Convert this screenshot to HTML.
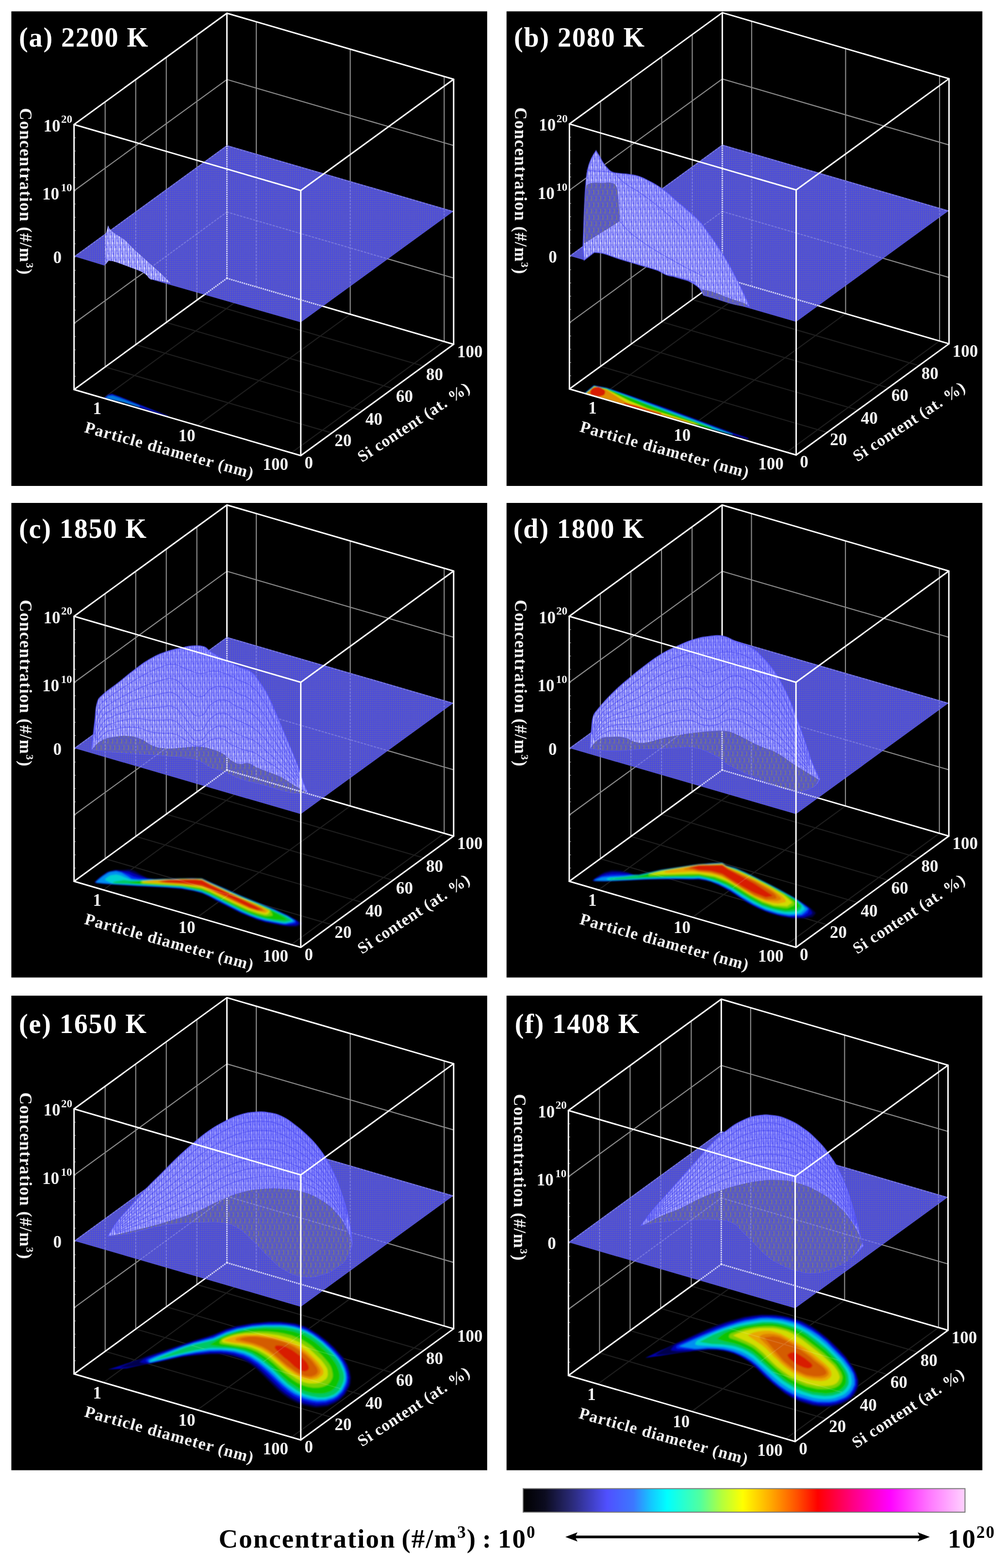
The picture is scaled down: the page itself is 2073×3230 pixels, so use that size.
<!DOCTYPE html>
<html lang="en">
<head>
<meta charset="utf-8">
<title>Concentration distributions</title>
<style>
html,body{margin:0;padding:0;background:#fff;}
body{width:2073px;height:3230px;font-family:"Liberation Serif",serif;}
svg{display:block;}
text{font-family:"Liberation Serif",serif;font-weight:bold;}
.e{stroke:#fff;stroke-width:3;fill:none;stroke-linejoin:round;stroke-linecap:round}
.g{stroke:#8a8a8a;stroke-width:2.2;fill:none}
.fg{stroke:#1e1e1e;stroke-width:2.2;fill:none}
.mt{stroke:#888;stroke-width:1.5}
.ml{stroke:#4a4af2;stroke-width:1.8;fill:none;opacity:.5}
.pl{fill:url(#pp)}
.g2{stroke:#c4c4ff;stroke-width:2.4;fill:none;opacity:.3;stroke-dasharray:5 2}
.e2{stroke:#f0f0ff;stroke-width:3;fill:none;opacity:.8;stroke-dasharray:3 1.5}
.fg2{stroke:#fff;stroke-width:2.4;fill:none}
.t{fill:#f4f4f4;font-size:35px}
.sp{font-size:23px}
.sp2{font-size:22px}
.al{fill:#f4f4f4;font-size:35px;letter-spacing:1.45px}
.al2{fill:#f4f4f4;font-size:34px;letter-spacing:1.4px}
.al3{fill:#f4f4f4;font-size:33.5px;letter-spacing:1.05px}
.pt{fill:#fff;font-size:56px;letter-spacing:1.9px}
.bt{fill:#000;font-size:55px;letter-spacing:2px;word-spacing:-4px}
</style>
</head>
<body>
<svg width="2073" height="3230" viewBox="0 0 2073 3230">
<defs>
<linearGradient id="cb" x1="0" y1="0" x2="1" y2="0">
<stop offset="0" stop-color="#000000"/>
<stop offset="0.05" stop-color="#0c0c20"/>
<stop offset="0.11" stop-color="#2a2a78"/>
<stop offset="0.19" stop-color="#5050ff"/>
<stop offset="0.25" stop-color="#3c78ff"/>
<stop offset="0.29" stop-color="#14c8ff"/>
<stop offset="0.326" stop-color="#00ffff"/>
<stop offset="0.40" stop-color="#50ffa0"/>
<stop offset="0.45" stop-color="#b4ff3c"/>
<stop offset="0.497" stop-color="#ffff00"/>
<stop offset="0.56" stop-color="#ffaa00"/>
<stop offset="0.62" stop-color="#ff5000"/>
<stop offset="0.667" stop-color="#ff0000"/>
<stop offset="0.745" stop-color="#ff0080"/>
<stop offset="0.829" stop-color="#ff00ff"/>
<stop offset="0.92" stop-color="#ff78ff"/>
<stop offset="1" stop-color="#ffd2ff"/>
</linearGradient>


<pattern id="st" width="9.4" height="26" patternUnits="userSpaceOnUse">
<rect width="9.4" height="26" fill="#7878f5"/>
<rect x="0.2" y="0" width="2.3" height="26" fill="#c2c2fa"/>
<rect x="4.9" y="0" width="2.3" height="26" fill="#bcbcf9"/>
<rect x="0.2" y="9" width="2.3" height="3.5" fill="#8e8ef6"/>
<rect x="4.9" y="21" width="2.3" height="3.5" fill="#8e8ef6"/>
<rect x="0.2" y="17" width="2.3" height="5" fill="#dedefc"/>
<rect x="4.9" y="4" width="2.3" height="5" fill="#dedefc"/>
<rect x="2.5" y="13" width="2.4" height="4" fill="#5a5af5"/>
<rect x="7.2" y="1" width="2.2" height="4" fill="#5a5af5"/>
</pattern>
<pattern id="gs" width="9.4" height="26" patternUnits="userSpaceOnUse">
<rect width="9.4" height="26" fill="#5c5cc0"/>
<rect x="0.3" y="1" width="2.1" height="10" fill="#787880"/>
<rect x="5" y="14" width="2.1" height="10" fill="#787880"/>
<rect x="2.5" y="16" width="2.4" height="4" fill="#4c4ce0"/>
<rect x="7.2" y="4" width="2.2" height="4" fill="#4c4ce0"/>
</pattern>
<pattern id="pp" width="4" height="4" patternUnits="userSpaceOnUse">
<rect width="4" height="4" fill="#5151d0"/>
<rect x="0" y="0" width="2" height="2" fill="#4747e6"/>
<rect x="2" y="2" width="2" height="2" fill="#6262b6"/>
</pattern>
<linearGradient id="tint" x1="0" y1="1" x2="1" y2="0">
<stop offset="0" stop-color="#4646ff" stop-opacity="0"/>
<stop offset="0.45" stop-color="#4646ff" stop-opacity="0.10"/>
<stop offset="0.8" stop-color="#4646ff" stop-opacity="0.38"/>
<stop offset="1" stop-color="#4646ff" stop-opacity="0.5"/>
</linearGradient>
<filter id="bl" x="-10%" y="-10%" width="120%" height="120%"><feGaussianBlur stdDeviation="1.6"/></filter>
<filter id="b1" x="-5%" y="-5%" width="110%" height="110%"><feGaussianBlur stdDeviation="0.8"/></filter>

<g id="back"><line class="g" x1="216.7" y1="755.9" x2="216.7" y2="209.9"/>
<line class="g" x1="279.7" y1="710" x2="279.7" y2="164"/>
<line class="g" x1="342.7" y1="664.2" x2="342.7" y2="118.2"/>
<line class="g" x1="405.7" y1="618.3" x2="405.7" y2="72.3"/>
<line class="g" x1="528.1" y1="590.9" x2="528.1" y2="44.9"/>
<line class="g" x1="721.7" y1="647.3" x2="721.7" y2="101.3"/>
<line class="g" x1="915.3" y1="703.6" x2="915.3" y2="157.6"/>
<line class="g" x1="152.6" y1="666" x2="467.6" y2="436.8"/>
<line class="g" x1="467.6" y1="436.8" x2="934.8" y2="572.8"/>
<line class="g" x1="152.6" y1="529.5" x2="467.6" y2="300.3"/>
<line class="g" x1="467.6" y1="300.3" x2="934.8" y2="436.3"/>
<line class="g" x1="152.6" y1="393" x2="467.6" y2="163.8"/>
<line class="g" x1="467.6" y1="163.8" x2="934.8" y2="299.8"/>
<line class="fg" x1="216.7" y1="755.9" x2="683.9" y2="891.9"/>
<line class="fg" x1="279.7" y1="710" x2="746.9" y2="846"/>
<line class="fg" x1="342.7" y1="664.2" x2="809.9" y2="800.2"/>
<line class="fg" x1="405.7" y1="618.3" x2="872.9" y2="754.3"/>
<line class="fg" x1="213.1" y1="820.1" x2="528.1" y2="590.9"/>
<line class="fg" x1="406.7" y1="876.5" x2="721.7" y2="647.3"/>
<line class="fg" x1="600.3" y1="932.8" x2="915.3" y2="703.6"/>
<line class="e" x1="467.6" y1="573.3" x2="467.6" y2="27.3"/>
<line class="e" x1="152.6" y1="802.5" x2="467.6" y2="573.3"/>
<line class="e" x1="467.6" y1="573.3" x2="934.8" y2="709.3"/></g>
<g id="back2"><line class="g2" x1="216.7" y1="755.9" x2="216.7" y2="209.9"/>
<line class="g2" x1="279.7" y1="710" x2="279.7" y2="164"/>
<line class="g2" x1="342.7" y1="664.2" x2="342.7" y2="118.2"/>
<line class="g2" x1="405.7" y1="618.3" x2="405.7" y2="72.3"/>
<line class="g2" x1="528.1" y1="590.9" x2="528.1" y2="44.9"/>
<line class="g2" x1="721.7" y1="647.3" x2="721.7" y2="101.3"/>
<line class="g2" x1="915.3" y1="703.6" x2="915.3" y2="157.6"/>
<line class="g2" x1="152.6" y1="666" x2="467.6" y2="436.8"/>
<line class="g2" x1="467.6" y1="436.8" x2="934.8" y2="572.8"/>
<line class="g2" x1="152.6" y1="529.5" x2="467.6" y2="300.3"/>
<line class="g2" x1="467.6" y1="300.3" x2="934.8" y2="436.3"/>
<line class="g2" x1="152.6" y1="393" x2="467.6" y2="163.8"/>
<line class="g2" x1="467.6" y1="163.8" x2="934.8" y2="299.8"/>
<line class="e2" x1="467.6" y1="573.3" x2="467.6" y2="27.3"/>
<line class="e2" x1="467.6" y1="573.3" x2="934.8" y2="709.3"/>
<line class="e2" x1="152.6" y1="802.5" x2="467.6" y2="573.3"/></g>
<g id="fgrid"><line class="fg2" x1="216.7" y1="755.9" x2="683.9" y2="891.9"/>
<line class="fg2" x1="279.7" y1="710" x2="746.9" y2="846"/>
<line class="fg2" x1="342.7" y1="664.2" x2="809.9" y2="800.2"/>
<line class="fg2" x1="405.7" y1="618.3" x2="872.9" y2="754.3"/>
<line class="fg2" x1="213.1" y1="820.1" x2="528.1" y2="590.9"/>
<line class="fg2" x1="406.7" y1="876.5" x2="721.7" y2="647.3"/>
<line class="fg2" x1="600.3" y1="932.8" x2="915.3" y2="703.6"/></g>
<g id="front"><line class="mt" x1="154.1" y1="775.2" x2="156.1" y2="775.2"/>
<line class="mt" x1="154.1" y1="747.9" x2="156.1" y2="747.9"/>
<line class="mt" x1="154.1" y1="720.6" x2="156.1" y2="720.6"/>
<line class="mt" x1="154.1" y1="693.3" x2="156.1" y2="693.3"/>
<line class="mt" x1="154.1" y1="666" x2="156.1" y2="666"/>
<line class="mt" x1="154.1" y1="638.7" x2="156.1" y2="638.7"/>
<line class="mt" x1="154.1" y1="611.4" x2="156.1" y2="611.4"/>
<line class="mt" x1="154.1" y1="584.1" x2="156.1" y2="584.1"/>
<line class="mt" x1="154.1" y1="556.8" x2="156.1" y2="556.8"/>
<line class="mt" x1="154.1" y1="529.5" x2="156.1" y2="529.5"/>
<line class="mt" x1="154.1" y1="502.2" x2="156.1" y2="502.2"/>
<line class="mt" x1="154.1" y1="474.9" x2="156.1" y2="474.9"/>
<line class="mt" x1="154.1" y1="447.6" x2="156.1" y2="447.6"/>
<line class="mt" x1="154.1" y1="420.3" x2="156.1" y2="420.3"/>
<line class="mt" x1="154.1" y1="393" x2="156.1" y2="393"/>
<line class="mt" x1="154.1" y1="365.7" x2="156.1" y2="365.7"/>
<line class="mt" x1="154.1" y1="338.4" x2="156.1" y2="338.4"/>
<line class="mt" x1="154.1" y1="311.1" x2="156.1" y2="311.1"/>
<line class="mt" x1="154.1" y1="283.8" x2="156.1" y2="283.8"/>
<path class="e" d="M152.6,256.5 L619.8,392.5 L934.8,163.3 L467.6,27.3Z"/>
<path class="e" d="M152.6,256.5 L152.6,802.5 L619.8,938.5 L934.8,709.3 L934.8,163.3"/>
<line class="e" x1="619.8" y1="938.5" x2="619.8" y2="392.5"/></g>
</defs>
<rect x="0" y="0" width="2073" height="3230" fill="#fff"/>
<g id="panel-a">
<rect x="23.4" y="23.4" width="980.5" height="977.6" fill="#000"/>
<g transform="translate(0 0)"><use href="#back"/></g>
<g filter="url(#b1)"><path fill="#0014c8"  d="M214.4,820.3L222.5,813.3L230.6,811.3L246.8,817L271.2,826.8L303.6,839.7L328,849.5L346.7,856.6L346.7,857.9L303.6,844.4L254.9,829Z"/><path fill="#0078dc"  d="M217.6,819.9L223.3,815.4L232.2,814.9L246.8,819.9L271.2,829.5L287.4,836L287.4,838.4L254.9,829Z"/></g>
<clipPath id="cp-a"><polygon  points="152.6,528.1 215,546.9 223.8,537.1 233.5,538.3 249.1,543.4 264.7,549.2 280.3,555.1 293.9,560.9 301.7,566.4 309.5,575.1 619.8,664.1 934.8,434.9 467.6,298.9"/></clipPath>
<polygon class="pl" points="152.6,528.1 215,546.9 223.8,537.1 233.5,538.3 249.1,543.4 264.7,549.2 280.3,555.1 293.9,560.9 301.7,566.4 309.5,575.1 619.8,664.1 934.8,434.9 467.6,298.9"/>
<g clip-path="url(#cp-a)"><g transform="translate(0 0)"><use href="#back2"/></g></g>
<path fill="url(#st)"  d="M216.9,486.5C217.1,482 218.3,481.1 219.5,476.8C221,471.1 222.8,464.1 222.8,464.1C222.8,464.1 224.4,468.7 226.7,471.9C229.3,475.4 230.1,476 233.5,478.7C238.5,482.6 239.9,483 245.2,486.5C250.5,490 252,490.3 256.9,494.3C261.7,498.2 262.2,499.6 266.6,504C271,508.4 271.9,509.5 276.4,513.8C280.6,517.8 281.7,518.6 286.1,522.5C290.5,526.5 291.5,527.4 295.8,531.3C300.2,535.2 301.2,536.1 305.6,540.1C310,544 310.9,544.9 315.3,548.8C319.7,552.8 320.7,553.7 325.1,557.6C329.4,561.5 330.5,562.3 334.8,566.4C338.4,569.8 339.1,570.6 342.6,574.2C347,578.5 352.3,583.9 352.3,583.9C352.3,583.9 342.7,581.4 334.8,579.6C326.1,577.7 323.8,577.2 315.3,575.7C312.7,575.3 311.7,576.6 309.5,575.1C305.1,572.1 305.6,569.9 301.7,566.4C298.5,563.5 297.7,562.9 293.9,560.9C288,557.8 286.5,557.5 280.3,555.1C273.3,552.3 271.7,551.9 264.7,549.2C257.7,546.6 256.2,545.9 249.1,543.4C242.1,540.9 240.7,540.1 233.5,538.3C229.2,537.3 223.8,537.1 223.8,537.1C223.8,537.1 217.9,544.9 217.9,544.9C217.9,544.9 216.4,509.2 216.9,486.5Z"/>
<g transform="translate(0 0)">
<use href="#front"/>
<g class="labels"><text class="t" transform="translate(89.5 270.5) scale(1 1.04)">10<tspan class="sp" dx="1.5" dy="-16.5">20</tspan></text>
<text class="t" transform="translate(87 411.3) scale(1 1.04)">10<tspan class="sp" dx="3.5" dy="-16.5">10</tspan></text>
<text class="t" transform="translate(109.5 542) scale(1 1.04)">0</text>
<text class="al" transform="translate(40.5 222.5) rotate(90)">Concentration (#/m<tspan class="sp2" dy="-13">3</tspan><tspan dy="13">)</tspan></text>
<text class="t" transform="translate(191.5 853) scale(1 1.04)">1</text>
<text class="t" transform="translate(367.5 909) scale(1 1.04)">10</text>
<text class="t" transform="translate(541.5 968) scale(1 1.04)">100</text>
<text class="al2" transform="translate(172.5 890) rotate(15.5)">Particle diameter (nm)</text>
<text class="t" transform="translate(627.5 964.5) scale(1 1.04)">0</text>
<text class="t" transform="translate(689.5 918.5) scale(1 1.04)">20</text>
<text class="t" transform="translate(753 874.5) scale(1 1.04)">40</text>
<text class="t" transform="translate(816 827.5) scale(1 1.04)">60</text>
<text class="t" transform="translate(878 782.5) scale(1 1.04)">80</text>
<text class="t" transform="translate(942 736) scale(1 1.04)">100</text>
<text class="al3" transform="translate(746 953) rotate(-33.4)">Si content (at. %)</text></g>
</g>
<text class="pt" x="39" y="95.8">(a) 2200 K</text>
</g>
<g id="panel-b">
<rect x="1043.8" y="23.4" width="980.5" height="977.6" fill="#000"/>
<g transform="translate(1020.8 -1.2)"><use href="#back"/></g>
<g filter="url(#b1)"><path fill="#0000b4"  d="M1203.2,810.4L1223.6,793.5L1250.1,798.4L1286.1,810.4L1334.2,827.2L1382.2,844L1430.3,862L1478.3,880L1514.4,893.3L1542,902.6L1542,905L1430.3,873.8L1310.1,839.9Z"/><path fill="#00b4dc"  d="M1204.9,810.4L1224.1,794.7L1250.1,799.8L1286.1,812.5L1334.2,830.1L1382.2,847.4L1430.3,865.1L1478.3,882.9L1509.5,894.5L1509.5,895.7L1430.3,873.8L1310.1,839.9Z"/><path fill="#14c400"  d="M1206.3,810.4L1224.6,795.5L1250.1,800.8L1286.1,814.4L1334.2,832.9L1382.2,850.7L1430.3,868L1466.3,881L1466.3,883.9L1430.3,873.8L1310.1,839.9Z"/><path fill="#d2dc00"  d="M1207.3,810.4L1225.1,796.2L1250.1,802.2L1271.7,813.2L1298.1,826.5L1334.2,840.9L1382.2,856L1430.3,870.9L1442.3,875.7L1430.3,873.8L1310.1,839.9Z"/><path fill="#e08c00"  d="M1208.3,810.4L1225.6,796.9L1250.1,803.6L1269.3,815.6L1290.9,828.9L1334.2,844L1382.2,858.4L1418.2,869L1418.2,870.9L1310.1,839.9Z"/><path fill="#d81c00"  d="M1216.4,808.9C1216.4,803.2 1219.8,799.8 1226,798.1C1233.5,796.1 1236.1,797.9 1242.9,801.7C1246.3,803.6 1247.7,805.8 1246.7,809.6C1245.6,813.8 1243.4,814.5 1239.3,815.6C1233.5,817.2 1231.7,816.9 1226,815.2C1221.1,813.7 1216.4,814.1 1216.4,808.9Z"/><path fill="#dc3000"  d="M1286.1,829.6L1310.1,834.9L1334.2,842.8L1363,851.2L1363,854.1L1310.1,839.9L1286.1,832.9Z"/></g>
<clipPath id="cp-b"><polygon  points="1173.4,526.9 1203.8,535.8 1224.3,519.9 1241.8,521.8 1276.9,533.5 1315.8,545.2 1354.8,556.9 1374.3,566.6 1393.8,570.5 1432.7,582.2 1379.5,567 1408.7,574.8 1426.2,582.6 1441.8,594.3 1449.6,607.9 1640.6,662.9 1955.6,433.7 1488.4,297.7"/></clipPath>
<polygon class="pl" points="1173.4,526.9 1203.8,535.8 1224.3,519.9 1241.8,521.8 1276.9,533.5 1315.8,545.2 1354.8,556.9 1374.3,566.6 1393.8,570.5 1432.7,582.2 1379.5,567 1408.7,574.8 1426.2,582.6 1441.8,594.3 1449.6,607.9 1640.6,662.9 1955.6,433.7 1488.4,297.7"/>
<g clip-path="url(#cp-b)"><g transform="translate(1020.8 -1.2)"><use href="#back2"/></g></g>
<path fill="url(#st)" stroke="#5656fa" stroke-width="2.5" stroke-opacity=".55" d="M1201.3,511.1C1201.3,511.1 1202.1,485.9 1202.9,465.3C1203.7,443.4 1203.7,438.5 1204.8,416.6C1205.9,396.4 1205.8,391.9 1207.7,371.8C1208.8,360.3 1208.9,357.7 1211.6,346.5C1213.8,337.5 1214.6,335.5 1218.4,327C1222.1,319.2 1228.2,310.5 1228.2,310.5C1228.2,310.5 1232.6,317.4 1236,323.1C1239.6,329.2 1239.8,330.9 1243.8,336.8C1246.9,341.4 1247.6,342.5 1251.6,346.5C1255.5,350.5 1256.1,352.1 1261.3,354.3C1267.9,357.1 1269.8,356.2 1276.9,357.2C1285.6,358.4 1287.7,357.8 1296.4,359.2C1305.2,360.5 1307.3,360.3 1315.8,363.1C1325,366 1326.7,367.5 1335.3,371.8C1344.3,376.3 1346.3,377.2 1354.8,382.5C1363.9,388.2 1365.9,389.5 1374.3,396.2C1382.7,402.8 1383.9,405 1392,411.9C1403.6,422 1406.5,423.7 1417.9,434C1430,444.8 1432.9,446.9 1444,458.7C1449,463.9 1449.3,465.8 1453.5,471.6C1460.5,481.2 1462.3,483.2 1469.1,493C1476.3,503.4 1477.9,505.7 1484.7,516.4C1491.9,527.6 1493.6,530.1 1500.3,541.7C1507.7,554.6 1509,557.7 1515.8,570.9C1522.1,583.1 1523.5,585.8 1529.5,598.2C1534.9,609.5 1536.3,612.6 1541.2,623.5C1542.6,626.8 1544.1,630.9 1544.1,630.9C1544.1,630.9 1528.3,630.2 1515.8,627.4C1498,623.4 1494.4,620.9 1476.9,615.7C1464.6,612.1 1449.6,607.9 1449.6,607.9C1449.6,607.9 1446.6,599.5 1441.8,594.3C1435.9,587.8 1433.8,587 1426.2,582.6C1418.8,578.2 1416.9,577.5 1408.7,574.8C1395.8,570.5 1371.5,564.5 1379.5,567C1387.5,569.5 1428,581 1432.7,582.2C1437.5,583.4 1411.5,575.2 1393.8,570.5C1385.1,568.2 1382.7,569.6 1374.3,566.6C1365,563.4 1364,560.3 1354.8,556.9C1337.6,550.6 1333.4,550.5 1315.8,545.2C1298.3,539.9 1294.3,539 1276.9,533.5C1261,528.5 1257.9,526 1241.8,521.8C1234.1,519.8 1224.3,519.9 1224.3,519.9C1224.3,519.9 1203.8,535.8 1203.8,535.8C1203.8,535.8 1201.3,511.1 1201.3,511.1Z"/><path fill="url(#tint)"  d="M1201.3,511.1C1201.3,511.1 1202.1,485.9 1202.9,465.3C1203.7,443.4 1203.7,438.5 1204.8,416.6C1205.9,396.4 1205.8,391.9 1207.7,371.8C1208.8,360.3 1208.9,357.7 1211.6,346.5C1213.8,337.5 1214.6,335.5 1218.4,327C1222.1,319.2 1228.2,310.5 1228.2,310.5C1228.2,310.5 1232.6,317.4 1236,323.1C1239.6,329.2 1239.8,330.9 1243.8,336.8C1246.9,341.4 1247.6,342.5 1251.6,346.5C1255.5,350.5 1256.1,352.1 1261.3,354.3C1267.9,357.1 1269.8,356.2 1276.9,357.2C1285.6,358.4 1287.7,357.8 1296.4,359.2C1305.2,360.5 1307.3,360.3 1315.8,363.1C1325,366 1326.7,367.5 1335.3,371.8C1344.3,376.3 1346.3,377.2 1354.8,382.5C1363.9,388.2 1365.9,389.5 1374.3,396.2C1382.7,402.8 1383.9,405 1392,411.9C1403.6,422 1406.5,423.7 1417.9,434C1430,444.8 1432.9,446.9 1444,458.7C1449,463.9 1449.3,465.8 1453.5,471.6C1460.5,481.2 1462.3,483.2 1469.1,493C1476.3,503.4 1477.9,505.7 1484.7,516.4C1491.9,527.6 1493.6,530.1 1500.3,541.7C1507.7,554.6 1509,557.7 1515.8,570.9C1522.1,583.1 1523.5,585.8 1529.5,598.2C1534.9,609.5 1536.3,612.6 1541.2,623.5C1542.6,626.8 1544.1,630.9 1544.1,630.9C1544.1,630.9 1528.3,630.2 1515.8,627.4C1498,623.4 1494.4,620.9 1476.9,615.7C1464.6,612.1 1449.6,607.9 1449.6,607.9C1449.6,607.9 1446.6,599.5 1441.8,594.3C1435.9,587.8 1433.8,587 1426.2,582.6C1418.8,578.2 1416.9,577.5 1408.7,574.8C1395.8,570.5 1371.5,564.5 1379.5,567C1387.5,569.5 1428,581 1432.7,582.2C1437.5,583.4 1411.5,575.2 1393.8,570.5C1385.1,568.2 1382.7,569.6 1374.3,566.6C1365,563.4 1364,560.3 1354.8,556.9C1337.6,550.6 1333.4,550.5 1315.8,545.2C1298.3,539.9 1294.3,539 1276.9,533.5C1261,528.5 1257.9,526 1241.8,521.8C1234.1,519.8 1224.3,519.9 1224.3,519.9C1224.3,519.9 1203.8,535.8 1203.8,535.8C1203.8,535.8 1201.3,511.1 1201.3,511.1Z"/><path fill="url(#gs)"  d="M1208.7,381.6C1208.7,381.6 1213.7,377.9 1218.4,377.1C1227.1,375.6 1229.2,376.4 1237.9,376.7C1250.2,377.1 1253.9,373.8 1265.2,378.6C1271.1,381.2 1272,391.3 1272,391.3C1272,391.3 1274.1,405.2 1274.9,416.6C1276.3,434.1 1276.9,455.6 1276.9,455.6C1276.9,455.6 1266.3,462.7 1257.4,468.2C1248.7,473.7 1246.6,474.6 1237.9,479.9C1231.7,483.8 1230.5,484.8 1224.3,488.7C1215.1,494.5 1203.8,501.4 1203.8,501.4C1203.8,501.4 1203.9,470.8 1204.4,445.8C1204.8,428.3 1204.6,424.4 1205.8,406.9C1206.5,395.4 1208.7,381.6 1208.7,381.6Z"/><path fill="url(#gs)"  d="M1445.7,596.2C1445.7,596.2 1452.2,596.9 1457.4,598.2C1466.3,600.4 1468.2,601 1476.9,604C1485.8,607.1 1487.5,608.5 1496.4,611.8C1505.1,615.1 1507.1,615.6 1515.8,618.6C1524.6,621.7 1527,621.4 1535.3,625.5C1539,627.2 1542.1,631.3 1542.1,631.3C1542.1,631.3 1527.5,630.2 1515.8,627.4C1498,623.2 1494.5,620.9 1476.9,615.7C1465.1,612.3 1450.6,608.3 1450.6,608.3C1450.6,608.3 1445.7,596.2 1445.7,596.2Z"/><path class="ml"  d="M1276.9,455.6C1276.9,455.6 1286.9,468 1296.4,477C1304.5,484.7 1306.9,485.9 1315.8,492.6C1324.4,499 1326.3,500.5 1335.3,506.2C1352.6,517.2 1356.6,519.4 1374.3,529.6C1391.6,539.6 1395.5,541.7 1413.2,551C1430.6,560.2 1452.2,570.5 1452.2,570.5"/><path class="ml"  d="M1269.1,358.2C1269.1,358.2 1274.9,366.3 1280.8,371.8C1287.2,377.8 1289.1,378.6 1296.4,383.5C1304.9,389.2 1307.3,389.6 1315.8,395.2C1324.8,401 1326.8,402.4 1335.3,408.8C1344.3,415.6 1346,417.4 1354.8,424.4C1363.6,431.4 1365.7,432.7 1374.3,440C1383.3,447.6 1385,449.6 1393.8,457.5C1402.5,465.4 1413.2,475.1 1413.2,475.1"/><path class="ml"  d="M1208.7,350.4C1208.7,350.4 1219.4,351.7 1228.2,352.3C1236.9,353 1238.9,352.3 1247.7,353.3C1257.4,354.5 1269.1,357.2 1269.1,357.2"/>
<g transform="translate(1020.8 -1.2)">
<use href="#front"/>
<g class="labels"><text class="t" transform="translate(89.5 270.5) scale(1 1.04)">10<tspan class="sp" dx="1.5" dy="-16.5">20</tspan></text>
<text class="t" transform="translate(87 411.3) scale(1 1.04)">10<tspan class="sp" dx="3.5" dy="-16.5">10</tspan></text>
<text class="t" transform="translate(109.5 542) scale(1 1.04)">0</text>
<text class="al" transform="translate(40.5 222.5) rotate(90)">Concentration (#/m<tspan class="sp2" dy="-13">3</tspan><tspan dy="13">)</tspan></text>
<text class="t" transform="translate(191.5 853) scale(1 1.04)">1</text>
<text class="t" transform="translate(367.5 909) scale(1 1.04)">10</text>
<text class="t" transform="translate(541.5 968) scale(1 1.04)">100</text>
<text class="al2" transform="translate(172.5 890) rotate(15.5)">Particle diameter (nm)</text>
<text class="t" transform="translate(627.5 964.5) scale(1 1.04)">0</text>
<text class="t" transform="translate(689.5 918.5) scale(1 1.04)">20</text>
<text class="t" transform="translate(753 874.5) scale(1 1.04)">40</text>
<text class="t" transform="translate(816 827.5) scale(1 1.04)">60</text>
<text class="t" transform="translate(878 782.5) scale(1 1.04)">80</text>
<text class="t" transform="translate(942 736) scale(1 1.04)">100</text>
<text class="al3" transform="translate(746 953) rotate(-33.4)">Si content (at. %)</text></g>
</g>
<text class="pt" x="1059" y="95.8">(b) 2080 K</text>
</g>
<g id="panel-c">
<rect x="23.4" y="1036" width="980.5" height="977.6" fill="#000"/>
<g transform="translate(0 1013)"><use href="#back"/></g>
<g filter="url(#bl)"><path fill="#00004c" d="M611.1,1908.9L594.5,1908.8L578.1,1906.3L546.6,1900.1L530.1,1895.1L496.2,1881.5L448.5,1857.5L433.5,1848.7L417.1,1840.7L399.1,1835.8L375.1,1831.6L343.5,1828.7L281.8,1825.7L219.5,1821.5L198.5,1819.4L196,1818.8L194.8,1817.8L194.7,1817.1L204.8,1807.5L221.1,1796.1L237.1,1792.1L253.1,1792.3L265.8,1790.7L277,1794.1L290.1,1801.6L303.1,1808.3L317.5,1810.4L394.8,1808.9L416.1,1809.4L465.5,1830.8L497.1,1845L562.9,1871.5L593.6,1885.5L623.3,1902.1L622.9,1903.1Z"/><path fill="#0000b4" d="M597.1,1906.5L586.8,1906.2L577.5,1904.7L546.5,1898.7L530.1,1893.8L495.5,1879.8L449.1,1856.5L433.8,1847.8L417.5,1840L399.8,1835.2L375.5,1830.9L365.5,1829.9L338.1,1827.8L281.8,1825L219.5,1821L198.5,1819L196.5,1818.4L195.7,1817.1L196.6,1815.8L205.1,1808.1L220.7,1797.1L226.5,1795.1L238.8,1792.8L265.8,1795.4L286.8,1804.1L304.5,1809.7L319.1,1810.9L395.1,1809.2L416.1,1809.7L496.8,1845.4L562.8,1872.1L588.4,1883.8L597.6,1888.5L609.8,1895.5L612.7,1898.1L615.4,1901.8L615.4,1902.5L614.4,1903.5L610.1,1905.7Z"/><path fill="#0028f0" d="M589.8,1904.2L583.8,1903.9L546.8,1897L529.1,1891.6L512.8,1885.4L496.1,1878.3L449.8,1855L434.1,1846.5L418.5,1839.2L415.8,1838.2L400.1,1834.3L375.8,1829.8L370.5,1829.2L338.1,1826.9L281.8,1824.2L224.5,1820.8L199,1818.5L197.1,1817.8L196.9,1816.8L201.5,1812.5L210.8,1804.9L221.5,1797.9L226.8,1795.8L239.1,1793.9L251.5,1796.4L265.1,1801.1L274.5,1805.7L286.1,1808.6L302.8,1811L320.5,1811.4L395.1,1809.4L416.1,1810L431.8,1817.5L465.5,1831.9L496.8,1846L563.5,1873.4L592.1,1886.6L608.1,1896.1L609.7,1897.8L609.5,1900.5L607.8,1902.1Z"/><path fill="#0090f0" d="M588.1,1902.5L582.5,1902L547.1,1895.6L529.5,1890.3L513.1,1884.1L496.5,1877L430.5,1843.5L416.5,1837.4L400.5,1833.6L375.1,1828.7L371.1,1828.3L338.1,1826.1L236.5,1820.9L200.1,1817.9L198.3,1817.5L198.1,1816.8L212.6,1804.8L224.4,1797.5L227.5,1796.6L239.5,1795L250.2,1798.1L264.5,1806.3L271.1,1810.7L284.8,1812.3L304.5,1812.2L395.1,1809.7L416.1,1810.3L431.8,1817.9L496.8,1846.6L530.4,1860.1L563.3,1874.1L591.8,1887.4L606.8,1896.8L607.6,1897.8L606.8,1898.6L602.1,1899.9Z"/><path fill="#00d2d2" d="M587.8,1901.2L573.1,1899.2L546.5,1894.3L530.1,1889.4L513.8,1883.4L496.5,1875.9L431.1,1842.9L414.5,1836L387.5,1830.3L371.1,1827.6L232.8,1819.9L230.7,1819.5L220.8,1814.8L216.6,1812.5L216.2,1811.5L220.7,1807.5L227.5,1803.2L239.1,1801.6L247.5,1803.3L269.1,1812.3L273.1,1813L287.5,1813.5L339.5,1811.2L395.1,1809.9L416.1,1810.6L431.8,1818.2L496.8,1847.1L530.1,1860.5L563.1,1874.8L590.8,1887.8L600.9,1894.1L603.3,1896.8L603,1897.5L601.1,1898.3Z"/><path fill="#00c864" d="M588.5,1899.5L585.8,1899.7L564.1,1896.5L546.8,1893.1L530.1,1888.3L513.8,1882.5L497.3,1875.1L431.5,1842.1L414.8,1835.2L374.8,1827.1L344.1,1825.1L236.8,1819.4L233.1,1818.8L232.6,1817.8L233.5,1816.9L238.5,1815.6L255.5,1812.8L269.1,1814.3L280.8,1814.3L315.1,1812.4L370.5,1810.5L402.5,1810.1L416.1,1810.8L431.8,1818.5L496.8,1847.6L530.3,1861.1L563.3,1875.8L587.4,1887.1L599.2,1894.5L600.5,1895.8L600.4,1896.5L599.5,1897Z"/><path fill="#10c400" d="M587.5,1895.9L564.8,1894.5L547.8,1891.8L530.8,1887.1L517.5,1882.5L499.5,1874.8L431.5,1840.9L415.5,1834.3L375.1,1826.3L338.5,1824L294.8,1821.9L275.8,1820L264.7,1818.1L265.7,1817.5L271.8,1816.6L290.1,1814.4L314.8,1812.7L388.8,1810.3L403.1,1810.3L416.1,1811L431.5,1818.7L496.8,1848.2L530.1,1861.7L556.5,1873.6L582.5,1887.8L587.7,1891.1L591.2,1894.1L590.7,1894.8Z"/><path fill="#7cd000" d="M549.8,1887.2L544.8,1886.8L531.5,1883.2L511.5,1876.4L478.5,1860.9L432.1,1838.1L415.8,1831.4L399.8,1828.4L375.1,1824.6L295.5,1820L290.9,1819.1L289.6,1818.5L289.3,1817.8L290.8,1816.1L293.1,1815.1L314.8,1813.1L340.1,1811.9L388.8,1810.6L402.8,1810.6L416.1,1811.4L434.5,1820.6L496.5,1848.9L530.1,1862.9L555.5,1874.6L557.2,1876.1L559,1878.8L561.3,1883.8L561.6,1885.8L559.5,1886.4Z"/><path fill="#d2dc00" d="M548.1,1883.9L544.8,1883.8L531.5,1880.3L512.5,1874.1L479.1,1858.8L432.8,1836.2L415.5,1829.2L397.5,1826.2L375.1,1823.2L296.1,1818.6L293.1,1818L292.5,1816.8L293.5,1815.8L295.1,1815.4L309.1,1813.9L340.1,1812.2L389.1,1810.8L402.8,1810.8L416.1,1811.6L434.8,1821.2L496.8,1849.6L530.8,1864L555.1,1875.8L555.7,1876.8L555.6,1878.1L553,1882.1L551.8,1882.9Z"/><path fill="#e8a800" d="M546.8,1880.9L545.1,1880.9L529.1,1877L513.1,1871.9L480.1,1856.9L432.9,1834.1L416.1,1827.4L400.5,1824.9L375.5,1822.1L308.8,1818.1L296.8,1817L296,1816.5L309.1,1814.5L349.1,1812L395.1,1811L416.1,1811.9L435.1,1821.8L496.8,1850.2L530.6,1864.8L548.5,1873.5L553.7,1876.5L552.8,1877.6Z"/><path fill="#e08000" d="M546.1,1877.5L539.8,1877.6L529.8,1876L513.8,1870.9L479.8,1855.2L433.5,1833.1L416.5,1826.2L400.8,1823.8L375.5,1821.2L333.8,1818.5L327.7,1817.1L325.9,1815.8L327.8,1814.7L333.5,1813.3L349.1,1812.3L395.1,1811.2L402.1,1811.2L416.1,1812.2L435.1,1822.3L539.2,1870.1L546.8,1875.5L547.3,1876.5Z"/><path fill="#d45c00" d="M539.1,1876.2L529.5,1875.4L513.8,1870.2L435.5,1833.1L416.5,1825.2L400.8,1822.9L375.5,1820.4L341.1,1818.4L333.8,1817.3L331.8,1816.5L331.4,1815.8L332.5,1814.5L334.1,1813.8L349.1,1812.6L395.1,1811.5L401.8,1811.5L416.1,1812.6L434.8,1822.6L522.1,1863L538.5,1871.1L540.8,1872.8L541.9,1874.8L541.1,1875.7Z"/><path fill="#d81c00" d="M536.1,1874.2L529.5,1874.3L514.1,1868.9L465.5,1845L433.1,1830.3L416.5,1823.5L400.8,1821.3L375.8,1819L342.1,1817.2L336.2,1815.8L335.3,1815.1L342.5,1813.7L371.8,1812.5L401.1,1812.1L416.1,1813.5L434.8,1823.7L465.5,1837.8L524.1,1865.8L537.7,1873.5Z"/></g>
<clipPath id="ch-c"><path d="M233.6,1818.4L261.2,1815.8L285.5,1814.3L309.9,1813.2L342.3,1811.7L374.8,1810.9L400,1810.5L416.2,1811.1L432.5,1819.2L464.9,1833.5L497.4,1848.4L529.9,1861.4L562.3,1876L586.7,1887.4L599.7,1895.8L586.7,1898.8L562.3,1895.5L546.1,1892.3L529.9,1887.4L513.6,1881.7L497.4,1874.4L481.2,1866.3L464.9,1858.2L448.7,1850.1L432.5,1841.9L416.2,1834.6L400,1831.4L374.8,1826.5L342.3,1824.5L309.9,1822.9L277.4,1821.1L253.1,1819.7Z"/></clipPath>
<g clip-path="url(#ch-c)"><g transform="translate(0 1013)" opacity="0.11"><use href="#fgrid"/></g></g>
<clipPath id="cp-c"><polygon  points="152.6,1541.1 619.8,1677.1 934.8,1447.9 467.6,1311.9"/></clipPath>
<polygon class="pl" points="152.6,1541.1 619.8,1677.1 934.8,1447.9 467.6,1311.9"/>
<g clip-path="url(#cp-c)"><g transform="translate(0 1013)"><use href="#back2"/></g></g>
<path fill="url(#st)" stroke="#5656fa" stroke-width="2.5" stroke-opacity=".55" d="M189,1544.1C189,1544.1 192.4,1510.2 195.7,1482.6C197.7,1465.8 195.9,1461.6 200.8,1445.5C203,1438.2 205.3,1437.1 210.9,1431.9C223.7,1420.2 227.7,1419 241.3,1408.3C256.6,1396.3 259.5,1393 275.1,1381.3C289.9,1370.2 292.8,1366.9 308.8,1357.7C323.3,1349.4 326.9,1348 342.6,1342.5C357.4,1337.3 361.1,1337.4 376.4,1334C385.4,1332.1 387.4,1331 396.6,1330.6C407.3,1330.2 410.1,1329.1 420.3,1332.3C427.5,1334.6 427.3,1338.4 433.8,1342.5C445.6,1349.9 448.4,1351.2 460.8,1357.7C475.8,1365.6 479.2,1367.3 494.5,1374.5C505,1379.5 508.9,1377.7 518.2,1384.7C527.7,1391.8 528.2,1395.3 535.1,1404.9C543.4,1416.6 545.3,1419.3 551.9,1431.9C560.5,1448.2 561.5,1452.3 568.8,1469.1C576.7,1487.2 578.1,1491.4 585.7,1509.6C593.3,1527.8 595.1,1531.8 602.6,1550.1C608.8,1565.3 610.4,1568.5 616.1,1583.9C621.1,1597.4 621.2,1600.8 626.2,1614.3C629.1,1622.1 633.7,1631.2 633.7,1631.2C633.7,1631.2 622.3,1635.1 612.7,1634.5C597.3,1633.6 594,1631.6 579,1627.8C563.6,1623.9 560.5,1621.9 545.2,1617.7C522.5,1611.3 516.9,1611.6 494.5,1604.2C480.3,1599.4 478.1,1596.1 464.2,1590.6C450.7,1585.4 447,1586.3 433.8,1580.5C422.5,1575.6 421.7,1571.1 410.1,1567C395.5,1561.9 391.7,1562.6 376.4,1560.3C361.3,1558 357.8,1558.1 342.6,1556.9C319.8,1555.1 314.7,1555 291.9,1553.5C269.2,1552 264,1552.2 241.3,1550.1C217.7,1548 189,1544.1 189,1544.1Z"/><path fill="url(#tint)"  d="M189,1544.1C189,1544.1 192.4,1510.2 195.7,1482.6C197.7,1465.8 195.9,1461.6 200.8,1445.5C203,1438.2 205.3,1437.1 210.9,1431.9C223.7,1420.2 227.7,1419 241.3,1408.3C256.6,1396.3 259.5,1393 275.1,1381.3C289.9,1370.2 292.8,1366.9 308.8,1357.7C323.3,1349.4 326.9,1348 342.6,1342.5C357.4,1337.3 361.1,1337.4 376.4,1334C385.4,1332.1 387.4,1331 396.6,1330.6C407.3,1330.2 410.1,1329.1 420.3,1332.3C427.5,1334.6 427.3,1338.4 433.8,1342.5C445.6,1349.9 448.4,1351.2 460.8,1357.7C475.8,1365.6 479.2,1367.3 494.5,1374.5C505,1379.5 508.9,1377.7 518.2,1384.7C527.7,1391.8 528.2,1395.3 535.1,1404.9C543.4,1416.6 545.3,1419.3 551.9,1431.9C560.5,1448.2 561.5,1452.3 568.8,1469.1C576.7,1487.2 578.1,1491.4 585.7,1509.6C593.3,1527.8 595.1,1531.8 602.6,1550.1C608.8,1565.3 610.4,1568.5 616.1,1583.9C621.1,1597.4 621.2,1600.8 626.2,1614.3C629.1,1622.1 633.7,1631.2 633.7,1631.2C633.7,1631.2 622.3,1635.1 612.7,1634.5C597.3,1633.6 594,1631.6 579,1627.8C563.6,1623.9 560.5,1621.9 545.2,1617.7C522.5,1611.3 516.9,1611.6 494.5,1604.2C480.3,1599.4 478.1,1596.1 464.2,1590.6C450.7,1585.4 447,1586.3 433.8,1580.5C422.5,1575.6 421.7,1571.1 410.1,1567C395.5,1561.9 391.7,1562.6 376.4,1560.3C361.3,1558 357.8,1558.1 342.6,1556.9C319.8,1555.1 314.7,1555 291.9,1553.5C269.2,1552 264,1552.2 241.3,1550.1C217.7,1548 189,1544.1 189,1544.1Z"/><path fill="#4a4aff" fill-opacity=".07" d="M189,1544.1C189,1544.1 192.4,1510.2 195.7,1482.6C197.7,1465.8 195.9,1461.6 200.8,1445.5C203,1438.2 205.3,1437.1 210.9,1431.9C223.7,1420.2 227.7,1419 241.3,1408.3C256.6,1396.3 259.5,1393 275.1,1381.3C289.9,1370.2 292.8,1366.9 308.8,1357.7C323.3,1349.4 326.9,1348 342.6,1342.5C357.4,1337.3 361.1,1337.4 376.4,1334C385.4,1332.1 387.4,1331 396.6,1330.6C407.3,1330.2 410.1,1329.1 420.3,1332.3C427.5,1334.6 427.3,1338.4 433.8,1342.5C445.6,1349.9 448.4,1351.2 460.8,1357.7C475.8,1365.6 479.2,1367.3 494.5,1374.5C505,1379.5 508.9,1377.7 518.2,1384.7C527.7,1391.8 528.2,1395.3 535.1,1404.9C543.4,1416.6 545.3,1419.3 551.9,1431.9C560.5,1448.2 561.5,1452.3 568.8,1469.1C576.7,1487.2 578.1,1491.4 585.7,1509.6C593.3,1527.8 595.1,1531.8 602.6,1550.1C608.8,1565.3 610.4,1568.5 616.1,1583.9C621.1,1597.4 621.2,1600.8 626.2,1614.3C629.1,1622.1 633.7,1631.2 633.7,1631.2C633.7,1631.2 622.3,1635.1 612.7,1634.5C597.3,1633.6 594,1631.6 579,1627.8C563.6,1623.9 560.5,1621.9 545.2,1617.7C522.5,1611.3 516.9,1611.6 494.5,1604.2C480.3,1599.4 478.1,1596.1 464.2,1590.6C450.7,1585.4 447,1586.3 433.8,1580.5C422.5,1575.6 421.7,1571.1 410.1,1567C395.5,1561.9 391.7,1562.6 376.4,1560.3C361.3,1558 357.8,1558.1 342.6,1556.9C319.8,1555.1 314.7,1555 291.9,1553.5C269.2,1552 264,1552.2 241.3,1550.1C217.7,1548 189,1544.1 189,1544.1Z"/><path class="ml"  d="M193.3,1514.8C193.3,1514.8 193.1,1482.5 202.9,1458.9C208.6,1444.9 214.7,1444.6 226.3,1434.9C237,1426 240.4,1425.5 252,1417.9C263.4,1410.3 265.7,1408.2 277.4,1401C288.7,1394.1 291.1,1392.4 303,1386.4C314.7,1380.5 317.2,1378.9 329.6,1374.8C341.6,1370.9 344.3,1367.9 356.9,1368.7C370.1,1369.6 372,1374.2 384.5,1378.4C396.9,1382.6 399.2,1386.3 412.3,1387.3C424.3,1388.2 426.5,1382.3 438.5,1382.5C450.7,1382.6 453.6,1383.9 465.1,1387.9C477.6,1392.3 479.5,1395.3 491.5,1401.1C503.4,1406.8 507.8,1405.3 518.1,1413.5C530.5,1423.4 531.9,1427.3 540.8,1440.3C551.1,1455.1 552.3,1459.2 560.8,1475.2C569.6,1492 571,1496 579.3,1513C587.7,1530.2 589.7,1534 597.8,1551.3C606.1,1569 615.8,1590.8 615.8,1590.8"/><path class="ml"  d="M194.3,1517.8C194.3,1517.8 195.7,1489.1 205.8,1468.9C212.2,1456.3 217.8,1456.4 229.3,1448.2C239.9,1440.5 243.1,1440.1 254.6,1433.9C265.8,1427.8 268.1,1426.2 279.7,1420.9C290.7,1415.8 293.3,1414.9 304.6,1410.7C316.2,1406.4 318.6,1404.7 330.7,1402C342.5,1399.3 345.8,1395 357.4,1398.6C371.8,1403.2 371.8,1410.3 384.3,1418.9C396.1,1427 397.1,1436 411.4,1435.6C425.6,1435.1 424,1422.5 437.2,1417.3C448.1,1412.9 451.7,1412.6 463.1,1415C475.8,1417.5 477.1,1422.2 488.7,1427.8C500.3,1433.3 504.2,1432.2 514.7,1439.7C526.5,1448 528.4,1451 537.5,1462.3C547.9,1475.3 549,1479.1 557.8,1493.3C566.8,1507.9 568.5,1511.4 577.1,1526.3C585.8,1541.5 587.8,1544.8 596.2,1560.2C604.8,1575.9 614.8,1595.5 614.8,1595.5"/><path class="ml"  d="M195.3,1520.8C195.3,1520.8 198.3,1495.7 208.8,1478.9C215.8,1467.8 221,1468.2 232.3,1461.4C242.9,1455.1 245.8,1454.7 257.2,1449.9C268.2,1445.4 270.6,1444.1 281.9,1440.7C292.7,1437.4 295.3,1437.5 306.3,1435C317.7,1432.3 320.1,1430.7 331.8,1429.1C343.4,1427.6 347.2,1423.1 357.9,1428C372.8,1435 371.8,1442.6 384.1,1453.6C395.5,1463.8 395.3,1476 410.5,1474.9C426.5,1473.8 422.4,1458.6 435.9,1449.9C445.9,1443.4 449.3,1441 461.2,1442C473.6,1443.2 474.7,1449.1 485.9,1454.4C497.2,1459.8 500.6,1459.2 511.2,1465.8C522.5,1472.7 524.9,1474.7 534.1,1484.3C544.7,1495.4 545.7,1499 554.8,1511.3C564,1523.9 565.9,1526.8 574.8,1539.6C583.8,1552.7 585.9,1555.6 594.5,1569C603.4,1582.9 613.7,1600.2 613.7,1600.2"/><path class="ml"  d="M196.2,1523.7C196.2,1523.7 201.1,1502.4 211.8,1489C219.5,1479.3 224.1,1480.1 235.2,1474.7C245.8,1469.7 248.6,1469.2 259.9,1466C270.6,1462.8 273.1,1462 284.1,1460.5C294.8,1459 297.3,1460.2 307.9,1459.2C319.2,1458.3 321.6,1456.8 332.9,1456.3C344.3,1455.7 348.2,1451.5 358.3,1456.8C372.9,1464.3 372,1471.5 384,1482.7C395.1,1493.3 394.4,1506.1 409.7,1505.1C425.7,1504.1 421.5,1488.9 434.6,1479.4C444.3,1472.3 447.2,1468.5 459.3,1469C471.3,1469.4 472.3,1476 483.2,1481.1C494.1,1486.3 497.1,1486.2 507.8,1491.9C518.6,1497.6 521.4,1498.4 530.7,1506.4C541.4,1515.5 542.4,1518.9 551.8,1529.4C561.2,1539.9 563.4,1542.2 572.5,1552.9C581.8,1564 584,1566.4 592.8,1577.8C602.1,1589.8 612.6,1604.9 612.6,1604.9"/><path class="ml"  d="M197.2,1526.7C197.2,1526.7 204,1509.1 214.8,1499C223.2,1491 227.2,1491.9 238.2,1488C248.8,1484.2 251.4,1483.8 262.5,1482C273.1,1480.3 275.6,1480 286.4,1480.3C296.9,1480.7 299.1,1482.9 309.6,1483.5C320.5,1484.2 323,1483.1 333.9,1483.4C345.2,1483.6 348.6,1480 358.8,1484.7C372.3,1491 372.3,1497 383.8,1506.4C394.8,1515.5 394.5,1526.3 408.8,1525.9C423.3,1525.5 421,1512.6 433.2,1505C443.1,1498.8 445.7,1494.8 457.4,1495.5C469.1,1496.2 469.8,1502.7 480.4,1507.8C490.9,1512.9 493.6,1513.3 504.3,1518C514.7,1522.5 517.8,1522.1 527.3,1528.4C538.1,1535.5 539.1,1538.9 548.8,1547.5C558.4,1555.9 560.8,1557.5 570.2,1566.2C579.9,1575.2 582.1,1577.1 591.2,1586.7C600.7,1596.6 611.5,1609.5 611.5,1609.5"/><path class="ml"  d="M198.2,1529.6C198.2,1529.6 207.1,1516.1 217.7,1509C227,1502.9 230.4,1503.8 241.2,1501.3C251.8,1498.8 254.2,1498.3 265.1,1498C275.7,1497.8 278.2,1497.9 288.6,1500.1C299.1,1502.4 300.7,1505.5 311.2,1507.8C321.7,1510.1 324.3,1509.6 335,1510.4C345.9,1511.3 348.8,1508.7 359.3,1511.8C371.2,1515.3 372.6,1519.1 383.6,1524.8C394.5,1530.5 395.7,1536.9 407.9,1537.1C419.9,1537.3 420.5,1529.3 431.9,1525.5C442.1,1522.1 444.9,1519.3 455.5,1521.3C466.8,1523.6 467.2,1529.3 477.6,1534.5C487.7,1539.5 490.2,1540.4 500.9,1544.1C511,1547.6 514.2,1545.8 523.9,1550.4C534.7,1555.6 535.8,1558.9 545.8,1565.5C555.6,1572 558.2,1572.9 567.9,1579.5C577.9,1586.4 580.1,1587.9 589.5,1595.5C599.3,1603.5 610.5,1614.2 610.5,1614.2"/><path fill="url(#gs)"  d="M190,1544.1C190,1544.1 197.9,1532.1 207.5,1526.5C218.5,1520.1 222,1520.1 234.5,1518.1C249.6,1515.6 253.2,1515 268.3,1516.4C279.3,1517.3 281.8,1518.8 291.9,1523.1C303.2,1527.9 304.1,1532.4 315.6,1536.6C327.2,1540.9 330.2,1541 342.6,1541.7C357.8,1542.5 361.2,1540.8 376.4,1540C391.6,1539.2 394.9,1537.5 410.1,1538.3C422.5,1539 425.3,1539.8 437.1,1543.4C448.2,1546.7 450.8,1547.7 460.8,1553.5C469.2,1558.4 469.3,1562 477.7,1567C484.7,1571.2 486.5,1572.6 494.5,1573.8C502.1,1574.9 503.9,1570.6 511.4,1572.1C519.8,1573.7 520.6,1577 528.3,1580.5C535.8,1583.9 537.6,1584.2 545.2,1587.3C560.4,1593.4 564.3,1593.5 579,1600.8C591.8,1607.2 593.6,1610.3 606,1617.7C617.2,1624.3 631.3,1631.8 631.3,1631.8C631.3,1631.8 621.1,1635.2 612.7,1634.5C597.3,1633.3 594,1631.6 579,1627.8C563.6,1623.9 560.5,1621.9 545.2,1617.7C522.5,1611.3 516.9,1611.6 494.5,1604.2C480.3,1599.4 478.1,1596.1 464.2,1590.6C450.7,1585.4 447,1586.3 433.8,1580.5C422.5,1575.6 421.7,1571.1 410.1,1567C395.5,1561.9 391.7,1562.6 376.4,1560.3C361.3,1558 357.8,1558.1 342.6,1556.9C319.8,1555.1 314.7,1555 291.9,1553.5C269.2,1552 264,1552.2 241.3,1550.1C218.1,1548 190,1544.1 190,1544.1Z"/>
<clipPath id="cq-c"><path d="M190,1544.1C190,1544.1 197.9,1532.1 207.5,1526.5C218.5,1520.1 222,1520.1 234.5,1518.1C249.6,1515.6 253.2,1515 268.3,1516.4C279.3,1517.3 281.8,1518.8 291.9,1523.1C303.2,1527.9 304.1,1532.4 315.6,1536.6C327.2,1540.9 330.2,1541 342.6,1541.7C357.8,1542.5 361.2,1540.8 376.4,1540C391.6,1539.2 394.9,1537.5 410.1,1538.3C422.5,1539 425.3,1539.8 437.1,1543.4C448.2,1546.7 450.8,1547.7 460.8,1553.5C469.2,1558.4 469.3,1562 477.7,1567C484.7,1571.2 486.5,1572.6 494.5,1573.8C502.1,1574.9 503.9,1570.6 511.4,1572.1C519.8,1573.7 520.6,1577 528.3,1580.5C535.8,1583.9 537.6,1584.2 545.2,1587.3C560.4,1593.4 564.3,1593.5 579,1600.8C591.8,1607.2 593.6,1610.3 606,1617.7C617.2,1624.3 631.3,1631.8 631.3,1631.8C631.3,1631.8 621.1,1635.2 612.7,1634.5C597.3,1633.3 594,1631.6 579,1627.8C563.6,1623.9 560.5,1621.9 545.2,1617.7C522.5,1611.3 516.9,1611.6 494.5,1604.2C480.3,1599.4 478.1,1596.1 464.2,1590.6C450.7,1585.4 447,1586.3 433.8,1580.5C422.5,1575.6 421.7,1571.1 410.1,1567C395.5,1561.9 391.7,1562.6 376.4,1560.3C361.3,1558 357.8,1558.1 342.6,1556.9C319.8,1555.1 314.7,1555 291.9,1553.5C269.2,1552 264,1552.2 241.3,1550.1C218.1,1548 190,1544.1 190,1544.1Z"/></clipPath>
<g clip-path="url(#cq-c)"><g transform="translate(0 1013)"><use href="#back2"/></g></g>
<g transform="translate(0 1013)">
<use href="#front"/>
<g class="labels"><text class="t" transform="translate(89.5 270.5) scale(1 1.04)">10<tspan class="sp" dx="1.5" dy="-16.5">20</tspan></text>
<text class="t" transform="translate(87 411.3) scale(1 1.04)">10<tspan class="sp" dx="3.5" dy="-16.5">10</tspan></text>
<text class="t" transform="translate(109.5 542) scale(1 1.04)">0</text>
<text class="al" transform="translate(40.5 222.5) rotate(90)">Concentration (#/m<tspan class="sp2" dy="-13">3</tspan><tspan dy="13">)</tspan></text>
<text class="t" transform="translate(191.5 853) scale(1 1.04)">1</text>
<text class="t" transform="translate(367.5 909) scale(1 1.04)">10</text>
<text class="t" transform="translate(541.5 968) scale(1 1.04)">100</text>
<text class="al2" transform="translate(172.5 890) rotate(15.5)">Particle diameter (nm)</text>
<text class="t" transform="translate(627.5 964.5) scale(1 1.04)">0</text>
<text class="t" transform="translate(689.5 918.5) scale(1 1.04)">20</text>
<text class="t" transform="translate(753 874.5) scale(1 1.04)">40</text>
<text class="t" transform="translate(816 827.5) scale(1 1.04)">60</text>
<text class="t" transform="translate(878 782.5) scale(1 1.04)">80</text>
<text class="t" transform="translate(942 736) scale(1 1.04)">100</text>
<text class="al3" transform="translate(746 953) rotate(-33.4)">Si content (at. %)</text></g>
</g>
<text class="pt" x="39" y="1107.5">(c) 1850 K</text>
</g>
<g id="panel-d">
<rect x="1043.8" y="1036" width="980.5" height="977.6" fill="#000"/>
<g transform="translate(1020.4 1013)"><use href="#back"/></g>
<g filter="url(#bl)"><path fill="#00004c" d="M1659.5,1892.1L1654.5,1892.3L1634.1,1891.7L1610.5,1887.9L1586.4,1881.4L1562.9,1872L1538.9,1859.4L1513.1,1842.3L1490.1,1828.5L1484.8,1825.8L1464.8,1816.7L1440.8,1811.9L1420.8,1812.2L1401.5,1811.5L1381.1,1811.5L1339.1,1812L1245.1,1816L1225.1,1815.4L1221.5,1814.7L1220.7,1813.7L1223.4,1811L1232.9,1804L1244.8,1797L1260.5,1792.7L1278.1,1793.4L1294.2,1797L1305.1,1801.2L1316.5,1801.8L1361.8,1791.6L1426.5,1781.8L1439.8,1780L1471.8,1777.4L1488.5,1777L1496.1,1782.6L1513.5,1786.9L1535.1,1796.2L1604.2,1830.7L1636,1848.4L1658.5,1862.4L1672.4,1872.4L1681.1,1880.4L1679.8,1882.7L1674.5,1888.7Z"/><path fill="#0000b4" d="M1654.8,1889.5L1634.5,1889.8L1625.1,1888.9L1612.8,1886.9L1601.1,1884.2L1587.5,1880.4L1577.8,1876.9L1559.5,1869L1539.7,1858.4L1503.8,1835.1L1485.5,1825L1465.1,1816.2L1454.8,1813.6L1444.5,1811.7L1439.5,1811L1421.8,1811.4L1401.8,1810.9L1358.5,1811L1327.8,1811.8L1292.1,1813.7L1244.8,1815.5L1225.1,1814.9L1222.8,1814.3L1222.2,1813.4L1223.5,1811.8L1225.5,1810.4L1239.1,1802.7L1247.5,1799.5L1261.1,1796.8L1277.1,1796.9L1293.8,1799.1L1305.1,1801.7L1316.5,1802L1362.1,1791.8L1428.8,1781.8L1439.8,1780.2L1468.5,1778L1488.5,1777.3L1496.1,1782.8L1513.1,1787.3L1518.8,1789.4L1546.5,1802.1L1577.5,1817.5L1603.8,1831L1635.8,1848.8L1658.2,1863.4L1668.1,1871L1672.1,1877.4L1673.5,1881.4L1671.1,1883.8L1658.5,1888.7Z"/><path fill="#0028f0" d="M1644.8,1887L1626.8,1887.2L1611.5,1884.7L1601.5,1882.7L1577.5,1875.2L1564.1,1869.4L1551.5,1863.2L1528.5,1849.4L1504.5,1833.5L1485.8,1823.7L1480.5,1821.1L1465.1,1815.3L1455.5,1812.5L1446.5,1810.8L1439.5,1809.8L1428.8,1810.3L1401.8,1809.9L1358.5,1810.1L1327.8,1811L1267.1,1814.2L1244.8,1814.8L1225.5,1814.3L1224.1,1814L1223.7,1813L1225.5,1811.5L1239.1,1805.5L1249.8,1803L1261.8,1801.5L1274.5,1801.2L1303.8,1802.3L1316.5,1802.2L1362.1,1792.1L1439.5,1780.5L1468.8,1778.4L1488.1,1777.6L1496.5,1783.3L1517.5,1789.4L1534.8,1797L1554.5,1806.4L1588.8,1823.7L1639.5,1851.5L1665.7,1871L1666.3,1872.4L1666.3,1874L1664.7,1879.4L1664,1880.4L1658.1,1883.9L1652.9,1886.4Z"/><path fill="#0090f0" d="M1651.5,1883.9L1626.1,1885.5L1602.4,1881.4L1577.5,1873.8L1552.2,1862L1529.1,1848.2L1505.5,1832.4L1494.1,1826.5L1480.8,1819.9L1454.8,1811.2L1439.8,1808.7L1428.8,1809.3L1380.5,1809L1327.8,1810.3L1257.1,1813.9L1233.8,1813.9L1225.8,1813.5L1225.1,1813L1240.5,1807.5L1256.5,1806.1L1289.1,1804.4L1309.8,1802.4L1316.8,1802.4L1362.1,1792.4L1439.5,1780.7L1488.1,1778L1496.5,1783.5L1518.1,1790L1539.9,1799.7L1588.5,1823.9L1639.5,1852L1664.1,1871.9L1663.8,1873.1L1658.7,1878.4Z"/><path fill="#00d2d2" d="M1628.1,1882.8L1617.1,1881.8L1602.8,1879.2L1578.1,1871.9L1569.1,1868.1L1553.5,1860.5L1530.1,1846.7L1506.1,1831L1495.1,1825.2L1480.8,1818.5L1471.5,1815.2L1455.1,1810.2L1439.5,1807.6L1428.5,1808.3L1391.5,1808L1359.5,1808.5L1328.1,1809.6L1292.8,1811.7L1257.1,1813.1L1253,1812.4L1249.6,1810.7L1251.4,1809.4L1256.8,1808L1285.1,1805.9L1309.8,1802.7L1316.8,1802.6L1362.1,1792.7L1439.8,1780.8L1488.1,1778.3L1496.8,1783.9L1518.1,1790.5L1547.1,1803.4L1577.3,1818.4L1617.4,1840L1639.1,1852.4L1642.8,1854.9L1653.9,1865L1658,1871.4L1658,1872.4L1657.1,1873.4L1649.4,1880.4L1642.5,1881.8Z"/><path fill="#00c864" d="M1625.5,1879.1L1617.5,1878.9L1594.5,1874.1L1580.1,1869.6L1570.1,1865.9L1545.1,1852.8L1507.5,1829.6L1495.5,1822.9L1472.1,1813.4L1457.8,1809.6L1440.8,1806L1428.1,1806.8L1391.1,1806.7L1359.5,1807.5L1328.1,1808.7L1273.1,1811.7L1257.1,1811.8L1256,1811.4L1255.8,1810.7L1256.5,1810L1258.5,1809.6L1285.5,1806.8L1309.8,1803.2L1317.1,1802.9L1330.8,1800.3L1362.1,1793L1439.8,1780.9L1488.1,1778.6L1496.8,1784.1L1521,1792L1543.3,1802L1584.9,1822.7L1617.3,1840.4L1639.1,1853L1642.9,1855.7L1652,1865.4L1652.1,1867L1650.4,1872L1647.8,1874.9L1644.5,1877.4L1640.5,1878.1Z"/><path fill="#10c400" d="M1629.1,1875.4L1618.5,1876.2L1594.1,1871.4L1570.5,1863.6L1546.5,1850.9L1497.8,1821.7L1473.5,1811.9L1470.1,1811L1439.8,1804.4L1427.8,1805.3L1390.5,1805.4L1340.5,1807.2L1325.5,1807L1314,1806L1317.5,1804.6L1330.8,1801.3L1338.5,1798.8L1362.1,1793.3L1439.5,1781.1L1488.5,1779L1496.8,1784.4L1521.5,1792.8L1554.4,1807.7L1584.7,1823L1617.5,1841L1640.1,1855L1642.5,1856.9L1648.5,1865.4L1648,1866.7L1641.8,1873.6Z"/><path fill="#7cd000" d="M1621.8,1870.7L1616.1,1870.4L1593.5,1867.3L1571.1,1859.4L1544.8,1845.1L1518.9,1829L1499.5,1818.2L1493.5,1815.5L1471.8,1807.4L1439.8,1801.7L1339.8,1804L1337,1803.7L1336.4,1802.4L1337.4,1800.4L1338.5,1799.7L1362.1,1793.9L1439.8,1781.4L1488.5,1779.6L1498.1,1785.6L1521.5,1794.1L1554.1,1808.7L1584.8,1824.6L1616.2,1842.4L1634.8,1856.6L1636.2,1858L1637,1860L1636.9,1863L1635.7,1865L1624.1,1870.2Z"/><path fill="#d2dc00" d="M1621.8,1866.8L1594.1,1864.7L1570.5,1856.2L1545.8,1842.9L1520.5,1827L1500.7,1816L1494.5,1813.1L1472.8,1805L1440.1,1799.8L1422.8,1799.7L1369.1,1801.3L1339.8,1801L1356,1796.4L1368.8,1793.4L1439.8,1781.6L1488.5,1780L1498.5,1786.3L1521.5,1795.1L1557.3,1811.4L1585.5,1826.3L1614.8,1843.4L1632.2,1858.7L1632.2,1859.4L1631.1,1860.3Z"/><path fill="#e8a800" d="M1603.5,1861.4L1594.5,1860.5L1578.1,1856.9L1562.5,1850.4L1554.5,1846.8L1546.2,1842L1506.5,1817.3L1496.2,1811.4L1487.5,1807L1473.5,1802.4L1461.5,1799.8L1426.5,1795.8L1378.8,1798.2L1369.8,1797.4L1368.9,1796.7L1369,1795.7L1370.8,1794.3L1379.8,1792.4L1439.8,1781.8L1488.8,1780.5L1498.8,1787.1L1521.8,1796.6L1557.1,1812.9L1586.5,1828.7L1611.1,1844.4L1613.2,1846.4L1618.7,1853.4L1619.3,1855.4L1619.1,1857.7L1617.1,1858.8Z"/><path fill="#e08000" d="M1602.1,1856.1L1595.1,1856L1578.5,1854.6L1554.6,1845.4L1530.1,1831L1504.8,1814.5L1487.5,1804.3L1464.8,1797.7L1440.1,1795.3L1427.5,1792.8L1415.8,1792.4L1409.1,1791.6L1407.7,1791L1410.1,1789.6L1422.8,1785.2L1439.8,1782.1L1488.8,1780.9L1500.1,1788.5L1521.5,1798.1L1556.1,1814.5L1584.8,1830.5L1594.2,1836.7L1600.5,1841.4L1607.2,1847.4L1608.4,1848.7L1609.6,1851.4L1609.7,1852.4L1609.1,1852.9Z"/><path fill="#d45c00" d="M1591.8,1852.1L1577.8,1852.1L1554.5,1843L1528.5,1828.3L1491.1,1804.6L1487.6,1802.7L1465.1,1796.4L1439.8,1794L1428.1,1791.3L1421.8,1790.5L1420.1,1789.8L1420,1789L1421.8,1786.7L1423.5,1785.6L1439.8,1782.4L1488.8,1781.4L1500.8,1789.5L1555.1,1816.2L1583.5,1833L1593.8,1839.8L1598,1844L1600.6,1849.7L1600.1,1850.4L1597.8,1851.2Z"/><path fill="#d81c00" d="M1579.8,1848.1L1577.3,1848L1556.1,1839.8L1549.1,1836.4L1529.4,1825.7L1504.9,1810.7L1488.5,1800.1L1464.5,1793.8L1439.8,1791.9L1427.5,1788.1L1425.6,1787.4L1425.2,1786.7L1440.5,1783.1L1488.6,1782.4L1500.5,1790.9L1553.5,1819.4L1591.6,1844.4L1591.5,1845.3L1590.5,1845.9Z"/></g>
<clipPath id="ch-d"><path d="M1256.8,1811L1281.2,1807.9L1305.5,1804.2L1329.9,1800.6L1362.3,1793.3L1394.8,1788.4L1427.3,1783.2L1440,1781.1L1488.7,1779.2L1496.8,1784.4L1521.2,1792.5L1553.6,1807.1L1586.1,1823.3L1618.6,1841.2L1642.9,1855.8L1651,1865.8L1642.9,1875.3L1618.6,1876.9L1594.2,1872L1569.9,1863.9L1545.5,1850.9L1521.2,1836.3L1496.8,1821.7L1472.5,1811.9L1440,1804.6L1427.3,1805.8L1394.8,1805.8L1362.3,1806.8L1329.9,1808.1L1297.4,1810L1273.1,1811.1Z"/></clipPath>
<g clip-path="url(#ch-d)"><g transform="translate(1020.4 1013)" opacity="0.11"><use href="#fgrid"/></g></g>
<clipPath id="cp-d"><polygon  points="1173,1541.1 1640.2,1677.1 1955.2,1447.9 1488,1311.9"/></clipPath>
<polygon class="pl" points="1173,1541.1 1640.2,1677.1 1955.2,1447.9 1488,1311.9"/>
<g clip-path="url(#cp-d)"><g transform="translate(1020.4 1013)"><use href="#back2"/></g></g>
<path fill="url(#st)" stroke="#5656fa" stroke-width="2.5" stroke-opacity=".55" d="M1215.7,1541.7C1215.7,1541.7 1217.1,1518.4 1219.1,1499.5C1220.2,1488.8 1219.2,1486.1 1222.5,1475.8C1224.6,1469 1226.4,1467.9 1230.9,1462.3C1243.9,1446.6 1246.8,1443 1261.3,1428.6C1275.8,1414.1 1279.5,1411.4 1295.1,1398.2C1309.9,1385.6 1313.3,1382.8 1328.8,1371.2C1343.7,1360 1346.7,1357.1 1362.6,1347.5C1377.2,1338.8 1380.9,1337.6 1396.4,1330.6C1411.3,1323.9 1414.5,1321.8 1430.1,1317.1C1445,1312.7 1448.5,1312.1 1463.9,1310.4C1476,1309 1479,1308 1490.9,1310.4C1502.3,1312.7 1503.8,1316.1 1514.5,1320.5C1529.7,1326.8 1534.2,1325.7 1548.3,1334C1560.4,1341.1 1562,1344.4 1571.9,1354.3C1581.9,1364.2 1583.9,1366.6 1592.2,1377.9C1600.7,1389.5 1602.1,1392.4 1609.1,1404.9C1617.3,1419.8 1619,1423.2 1626,1438.7C1632.7,1453.6 1633.7,1457.2 1639.5,1472.5C1645.8,1489.1 1647.1,1492.8 1653,1509.6C1659.3,1527.8 1660.4,1531.9 1666.5,1550.1C1668.7,1556.8 1668.8,1558.4 1671.4,1564.9C1676.3,1577.4 1677.6,1580 1683.1,1592.2C1685.7,1598 1689.4,1604.9 1689.4,1604.9C1689.4,1604.9 1684.2,1617.4 1675.3,1621.4C1659.1,1628.9 1654,1632.2 1636.4,1629.2C1599.7,1623.1 1592.9,1615.7 1558.4,1601.9C1531.5,1591.2 1525.6,1588.4 1500,1574.7C1490.5,1569.6 1490,1565.8 1480.8,1560.3C1469.1,1553.2 1466.4,1551.8 1453.8,1546.8C1443.5,1542.6 1441.1,1541.3 1430.1,1540C1415,1538.2 1411.6,1539.6 1396.4,1540C1381.2,1540.4 1377.8,1541.1 1362.6,1541.7C1339.8,1542.6 1334.7,1542.2 1311.9,1543.4C1289.1,1544.5 1284.1,1547.2 1261.3,1546.8C1240.7,1546.4 1215.7,1541.7 1215.7,1541.7Z"/><path fill="url(#tint)"  d="M1215.7,1541.7C1215.7,1541.7 1217.1,1518.4 1219.1,1499.5C1220.2,1488.8 1219.2,1486.1 1222.5,1475.8C1224.6,1469 1226.4,1467.9 1230.9,1462.3C1243.9,1446.6 1246.8,1443 1261.3,1428.6C1275.8,1414.1 1279.5,1411.4 1295.1,1398.2C1309.9,1385.6 1313.3,1382.8 1328.8,1371.2C1343.7,1360 1346.7,1357.1 1362.6,1347.5C1377.2,1338.8 1380.9,1337.6 1396.4,1330.6C1411.3,1323.9 1414.5,1321.8 1430.1,1317.1C1445,1312.7 1448.5,1312.1 1463.9,1310.4C1476,1309 1479,1308 1490.9,1310.4C1502.3,1312.7 1503.8,1316.1 1514.5,1320.5C1529.7,1326.8 1534.2,1325.7 1548.3,1334C1560.4,1341.1 1562,1344.4 1571.9,1354.3C1581.9,1364.2 1583.9,1366.6 1592.2,1377.9C1600.7,1389.5 1602.1,1392.4 1609.1,1404.9C1617.3,1419.8 1619,1423.2 1626,1438.7C1632.7,1453.6 1633.7,1457.2 1639.5,1472.5C1645.8,1489.1 1647.1,1492.8 1653,1509.6C1659.3,1527.8 1660.4,1531.9 1666.5,1550.1C1668.7,1556.8 1668.8,1558.4 1671.4,1564.9C1676.3,1577.4 1677.6,1580 1683.1,1592.2C1685.7,1598 1689.4,1604.9 1689.4,1604.9C1689.4,1604.9 1684.2,1617.4 1675.3,1621.4C1659.1,1628.9 1654,1632.2 1636.4,1629.2C1599.7,1623.1 1592.9,1615.7 1558.4,1601.9C1531.5,1591.2 1525.6,1588.4 1500,1574.7C1490.5,1569.6 1490,1565.8 1480.8,1560.3C1469.1,1553.2 1466.4,1551.8 1453.8,1546.8C1443.5,1542.6 1441.1,1541.3 1430.1,1540C1415,1538.2 1411.6,1539.6 1396.4,1540C1381.2,1540.4 1377.8,1541.1 1362.6,1541.7C1339.8,1542.6 1334.7,1542.2 1311.9,1543.4C1289.1,1544.5 1284.1,1547.2 1261.3,1546.8C1240.7,1546.4 1215.7,1541.7 1215.7,1541.7Z"/><path fill="#4a4aff" fill-opacity=".07" d="M1215.7,1541.7C1215.7,1541.7 1217.1,1518.4 1219.1,1499.5C1220.2,1488.8 1219.2,1486.1 1222.5,1475.8C1224.6,1469 1226.4,1467.9 1230.9,1462.3C1243.9,1446.6 1246.8,1443 1261.3,1428.6C1275.8,1414.1 1279.5,1411.4 1295.1,1398.2C1309.9,1385.6 1313.3,1382.8 1328.8,1371.2C1343.7,1360 1346.7,1357.1 1362.6,1347.5C1377.2,1338.8 1380.9,1337.6 1396.4,1330.6C1411.3,1323.9 1414.5,1321.8 1430.1,1317.1C1445,1312.7 1448.5,1312.1 1463.9,1310.4C1476,1309 1479,1308 1490.9,1310.4C1502.3,1312.7 1503.8,1316.1 1514.5,1320.5C1529.7,1326.8 1534.2,1325.7 1548.3,1334C1560.4,1341.1 1562,1344.4 1571.9,1354.3C1581.9,1364.2 1583.9,1366.6 1592.2,1377.9C1600.7,1389.5 1602.1,1392.4 1609.1,1404.9C1617.3,1419.8 1619,1423.2 1626,1438.7C1632.7,1453.6 1633.7,1457.2 1639.5,1472.5C1645.8,1489.1 1647.1,1492.8 1653,1509.6C1659.3,1527.8 1660.4,1531.9 1666.5,1550.1C1668.7,1556.8 1668.8,1558.4 1671.4,1564.9C1676.3,1577.4 1677.6,1580 1683.1,1592.2C1685.7,1598 1689.4,1604.9 1689.4,1604.9C1689.4,1604.9 1684.2,1617.4 1675.3,1621.4C1659.1,1628.9 1654,1632.2 1636.4,1629.2C1599.7,1623.1 1592.9,1615.7 1558.4,1601.9C1531.5,1591.2 1525.6,1588.4 1500,1574.7C1490.5,1569.6 1490,1565.8 1480.8,1560.3C1469.1,1553.2 1466.4,1551.8 1453.8,1546.8C1443.5,1542.6 1441.1,1541.3 1430.1,1540C1415,1538.2 1411.6,1539.6 1396.4,1540C1381.2,1540.4 1377.8,1541.1 1362.6,1541.7C1339.8,1542.6 1334.7,1542.2 1311.9,1543.4C1289.1,1544.5 1284.1,1547.2 1261.3,1546.8C1240.7,1546.4 1215.7,1541.7 1215.7,1541.7Z"/><path class="ml"  d="M1219.3,1509.5C1219.3,1509.5 1225.1,1483.5 1236.2,1465.4C1244.5,1451.9 1249.5,1451.3 1261.5,1440.8C1272.7,1430.9 1275.6,1429.1 1287.6,1420.1C1299.4,1411.2 1302.2,1409.5 1314.2,1401C1326.3,1392.4 1328.8,1390.2 1341.3,1382.1C1353.4,1374.1 1355.9,1372 1368.8,1365.3C1381.1,1358.8 1383.9,1357.2 1397.1,1352.7C1409.7,1348.3 1412.5,1346 1425.7,1345.5C1439,1345 1441.6,1350.8 1454.8,1350.5C1468.4,1350.2 1470.8,1345.7 1484.2,1344.3C1497,1343 1500.2,1342.4 1512.9,1344.5C1526.2,1346.7 1529.6,1347.4 1541.5,1353.8C1554.8,1360.9 1557.1,1364 1568.1,1374.3C1580.2,1385.6 1582.8,1388.4 1592.7,1401.6C1603.8,1416.2 1605.8,1419.8 1614.7,1435.8C1624.5,1453.5 1626,1457.8 1634.2,1476.2C1642.9,1495.6 1644.4,1500 1652.2,1519.8C1660.2,1540.1 1669.4,1565.1 1669.4,1565.1"/><path class="ml"  d="M1220.3,1512.2C1220.3,1512.2 1226.8,1488.6 1238.1,1472.7C1246.7,1460.5 1251.4,1460.2 1263.3,1451.3C1274.5,1442.9 1277.4,1441.7 1289.2,1434.3C1300.9,1427 1303.8,1425.9 1315.6,1418.6C1327.7,1411.2 1330.1,1408.9 1342.3,1401.6C1354.3,1394.3 1356.8,1392.3 1369.5,1386.2C1381.6,1380.3 1384.2,1378.4 1397.3,1374.9C1409.6,1371.6 1412.9,1369.2 1425.4,1371.4C1439.4,1373.9 1439.8,1383.5 1454,1384.9C1467.3,1386.3 1469.9,1380.9 1482.8,1377.2C1495.5,1373.5 1497.7,1368.9 1510.9,1368.6C1524,1368.3 1527.3,1370.1 1539,1375.9C1552.1,1382.3 1554.2,1385.5 1565.2,1395.2C1577.1,1405.6 1579.6,1408.2 1589.7,1420.3C1600.7,1433.4 1602.9,1436.6 1612,1451.1C1622,1467.1 1623.5,1471.1 1632,1487.9C1640.9,1505.5 1642.5,1509.6 1650.7,1527.7C1659,1546 1668.6,1568.7 1668.6,1568.7"/><path class="ml"  d="M1221.2,1514.9C1221.2,1514.9 1228.6,1493.7 1240,1479.9C1248.9,1469.1 1253.3,1469.1 1265.2,1461.7C1276.2,1454.9 1279.2,1454.3 1290.9,1448.6C1302.5,1442.8 1305.5,1442.3 1316.9,1436.3C1329.1,1429.9 1331.3,1427.7 1343.4,1421.1C1355.3,1414.6 1357.7,1412.7 1370.1,1407.2C1382.1,1401.9 1384.6,1399.7 1397.5,1397.1C1409.7,1394.6 1413.3,1392.3 1425.1,1396C1439.6,1400.7 1438.3,1411.8 1453.1,1414.8C1466,1417.4 1469.1,1412.4 1481.3,1407.5C1494.5,1402.3 1495,1395 1509,1392.6C1521.4,1390.4 1524.9,1392.9 1536.4,1398C1549.4,1403.7 1551.3,1407.1 1562.2,1416C1573.9,1425.6 1576.4,1428 1586.7,1439C1597.6,1450.7 1600,1453.4 1609.3,1466.4C1619.4,1480.7 1621,1484.4 1629.8,1499.5C1639,1515.5 1640.6,1519.2 1649.1,1535.5C1657.7,1552 1667.9,1572.4 1667.9,1572.4"/><path class="ml"  d="M1222.2,1517.6C1222.2,1517.6 1230.4,1498.8 1241.8,1487.1C1251.1,1477.8 1255.2,1477.9 1267,1472.2C1278,1466.9 1281,1466.9 1292.5,1462.8C1304.1,1458.7 1307,1458.7 1318.3,1453.9C1330.4,1448.7 1332.6,1446.4 1344.4,1440.6C1356.2,1434.8 1358.6,1433 1370.8,1428.1C1382.6,1423.4 1385.1,1421.2 1397.7,1419.2C1409.8,1417.3 1413.5,1415.2 1424.8,1419.6C1439.3,1425.2 1437.3,1436.3 1452.3,1440.4C1464.5,1443.8 1468.3,1439.9 1479.9,1434.8C1493.4,1428.8 1492.8,1420.1 1507,1416.3C1518.8,1413.1 1522.5,1415.6 1533.9,1420.1C1546.7,1425.2 1548.4,1428.7 1559.3,1436.9C1570.8,1445.6 1573.2,1447.8 1583.6,1457.7C1594.5,1468 1597.1,1470.2 1606.5,1481.7C1616.9,1494.3 1618.5,1497.7 1627.6,1511.2C1637,1525.4 1638.6,1528.8 1647.5,1543.4C1656.4,1558 1667.1,1576 1667.1,1576"/><path class="ml"  d="M1223.2,1520.3C1223.2,1520.3 1232.2,1503.8 1243.7,1494.4C1253.4,1486.5 1257.1,1486.8 1268.9,1482.7C1279.9,1478.9 1282.8,1479.5 1294.1,1477C1305.6,1474.5 1308.5,1475.2 1319.7,1471.5C1331.7,1467.6 1333.8,1465.2 1345.5,1460.1C1357.1,1455.1 1359.5,1453.4 1371.5,1449.1C1383.2,1444.9 1385.6,1442.9 1397.9,1441.3C1409.8,1439.7 1413.3,1437.8 1424.5,1442.1C1438.5,1447.5 1437,1457.5 1451.4,1461.9C1463.1,1465.5 1467.1,1463.2 1478.4,1458.4C1492,1452.7 1491,1443.7 1505.1,1439.4C1516.5,1435.9 1520.2,1438.2 1531.4,1442.2C1543.8,1446.7 1545.5,1450.3 1556.4,1457.8C1567.6,1465.7 1570,1467.7 1580.6,1476.4C1591.3,1485.3 1594.1,1487 1603.8,1497C1614.3,1507.9 1616,1511 1625.3,1522.9C1635,1535.4 1636.7,1538.5 1645.9,1551.2C1655.2,1564 1666.3,1579.6 1666.3,1579.6"/><path class="ml"  d="M1224.1,1523C1224.1,1523 1234.1,1509 1245.6,1501.6C1255.7,1495.2 1259.1,1495.6 1270.7,1493.2C1281.8,1490.9 1284.5,1492.2 1295.8,1491.3C1307.1,1490.4 1309.9,1491.7 1321,1489.2C1333,1486.4 1335.1,1483.9 1346.5,1479.7C1358.1,1475.3 1360.4,1473.8 1372.1,1470.1C1383.7,1466.4 1386.1,1464.8 1398.1,1463.3C1409.8,1461.8 1413,1460.1 1424.2,1463.6C1437.4,1467.7 1437.2,1475.9 1450.5,1479.6C1462,1482.7 1465.7,1481.9 1477,1478C1490.1,1473.5 1489.7,1465.1 1503.2,1461.5C1514.4,1458.6 1517.8,1460.6 1528.8,1464.3C1541,1468.5 1542.6,1471.9 1553.4,1478.7C1564.5,1485.7 1566.8,1487.6 1577.5,1495.1C1588.2,1502.7 1591.2,1503.7 1601.1,1512.3C1611.7,1521.6 1613.5,1524.3 1623.1,1534.6C1633,1545.3 1634.8,1548.1 1644.4,1559.1C1653.9,1570 1665.6,1583.3 1665.6,1583.3"/><path class="ml"  d="M1225.1,1525.7C1225.1,1525.7 1236,1514.2 1247.5,1508.9C1258,1504 1261.1,1504.5 1272.6,1503.7C1283.8,1502.9 1286.2,1504.8 1297.4,1505.5C1308.6,1506.2 1311.2,1508.2 1322.4,1506.8C1334.1,1505.3 1336.3,1502.7 1347.6,1499.2C1359,1495.6 1361.3,1494.2 1372.8,1491C1384.2,1487.9 1386.6,1486.7 1398.3,1485.2C1409.7,1483.7 1412.5,1482.4 1423.9,1484.2C1436.1,1486.2 1437.5,1491.5 1449.7,1493.6C1461.1,1495.6 1464.2,1495.6 1475.5,1493.1C1487.8,1490.4 1488.8,1483.8 1501.2,1482.2C1512.6,1480.7 1515.5,1482.5 1526.3,1486.3C1538,1490.5 1539.7,1493.4 1550.5,1499.6C1561.4,1505.8 1563.6,1507.5 1574.5,1513.8C1585.2,1520.1 1588.2,1520.5 1598.3,1527.6C1609.1,1535.2 1611,1537.6 1620.9,1546.3C1631,1555.3 1632.8,1557.7 1642.8,1566.9C1652.6,1576 1664.8,1586.9 1664.8,1586.9"/><path fill="url(#gs)"  d="M1216.7,1541.7C1216.7,1541.7 1224.1,1528.5 1234.3,1523.1C1245.2,1517.3 1249,1518.8 1261.3,1518.1C1273.5,1517.3 1276.4,1517.2 1288.3,1519.7C1298,1521.8 1299,1525.8 1308.6,1528.2C1317.4,1530.4 1319.8,1531 1328.8,1529.9C1344.4,1527.9 1347.3,1524.9 1362.6,1521.4C1377.7,1518 1381.1,1517.3 1396.4,1514.7C1411.5,1512 1414.9,1511.5 1430.1,1509.6C1445.3,1507.7 1448.6,1507 1463.9,1506.2C1479.1,1505.5 1482.6,1504.3 1497.7,1506.2C1507.2,1507.4 1509.1,1509.3 1517.9,1513C1527.3,1516.9 1529.1,1518.6 1538.2,1523.1C1550.3,1529.2 1552.8,1531.1 1565.2,1536.6C1580.1,1543.3 1584.5,1542.4 1599,1550.1C1616.7,1559.6 1619.4,1563.9 1636.4,1574.7C1659,1589 1687,1605.8 1687,1605.8C1687,1605.8 1683.3,1617.8 1675.3,1621.4C1659.1,1628.9 1654,1632.2 1636.4,1629.2C1599.7,1623.1 1592.9,1615.7 1558.4,1601.9C1531.5,1591.2 1525.6,1588.4 1500,1574.7C1490.5,1569.6 1490,1565.8 1480.8,1560.3C1469.1,1553.2 1466.4,1551.8 1453.8,1546.8C1443.5,1542.6 1441.1,1541.3 1430.1,1540C1415,1538.2 1411.6,1539.6 1396.4,1540C1381.2,1540.4 1377.8,1541.1 1362.6,1541.7C1339.8,1542.6 1334.7,1542.2 1311.9,1543.4C1289.1,1544.5 1284.1,1547.2 1261.3,1546.8C1241.1,1546.4 1216.7,1541.7 1216.7,1541.7Z"/>
<clipPath id="cq-d"><path d="M1216.7,1541.7C1216.7,1541.7 1224.1,1528.5 1234.3,1523.1C1245.2,1517.3 1249,1518.8 1261.3,1518.1C1273.5,1517.3 1276.4,1517.2 1288.3,1519.7C1298,1521.8 1299,1525.8 1308.6,1528.2C1317.4,1530.4 1319.8,1531 1328.8,1529.9C1344.4,1527.9 1347.3,1524.9 1362.6,1521.4C1377.7,1518 1381.1,1517.3 1396.4,1514.7C1411.5,1512 1414.9,1511.5 1430.1,1509.6C1445.3,1507.7 1448.6,1507 1463.9,1506.2C1479.1,1505.5 1482.6,1504.3 1497.7,1506.2C1507.2,1507.4 1509.1,1509.3 1517.9,1513C1527.3,1516.9 1529.1,1518.6 1538.2,1523.1C1550.3,1529.2 1552.8,1531.1 1565.2,1536.6C1580.1,1543.3 1584.5,1542.4 1599,1550.1C1616.7,1559.6 1619.4,1563.9 1636.4,1574.7C1659,1589 1687,1605.8 1687,1605.8C1687,1605.8 1683.3,1617.8 1675.3,1621.4C1659.1,1628.9 1654,1632.2 1636.4,1629.2C1599.7,1623.1 1592.9,1615.7 1558.4,1601.9C1531.5,1591.2 1525.6,1588.4 1500,1574.7C1490.5,1569.6 1490,1565.8 1480.8,1560.3C1469.1,1553.2 1466.4,1551.8 1453.8,1546.8C1443.5,1542.6 1441.1,1541.3 1430.1,1540C1415,1538.2 1411.6,1539.6 1396.4,1540C1381.2,1540.4 1377.8,1541.1 1362.6,1541.7C1339.8,1542.6 1334.7,1542.2 1311.9,1543.4C1289.1,1544.5 1284.1,1547.2 1261.3,1546.8C1241.1,1546.4 1216.7,1541.7 1216.7,1541.7Z"/></clipPath>
<g clip-path="url(#cq-d)"><g transform="translate(1020.4 1013)"><use href="#back2"/></g></g>
<g transform="translate(1020.4 1013)">
<use href="#front"/>
<g class="labels"><text class="t" transform="translate(89.5 270.5) scale(1 1.04)">10<tspan class="sp" dx="1.5" dy="-16.5">20</tspan></text>
<text class="t" transform="translate(87 411.3) scale(1 1.04)">10<tspan class="sp" dx="3.5" dy="-16.5">10</tspan></text>
<text class="t" transform="translate(109.5 542) scale(1 1.04)">0</text>
<text class="al" transform="translate(40.5 222.5) rotate(90)">Concentration (#/m<tspan class="sp2" dy="-13">3</tspan><tspan dy="13">)</tspan></text>
<text class="t" transform="translate(191.5 853) scale(1 1.04)">1</text>
<text class="t" transform="translate(367.5 909) scale(1 1.04)">10</text>
<text class="t" transform="translate(541.5 968) scale(1 1.04)">100</text>
<text class="al2" transform="translate(172.5 890) rotate(15.5)">Particle diameter (nm)</text>
<text class="t" transform="translate(627.5 964.5) scale(1 1.04)">0</text>
<text class="t" transform="translate(689.5 918.5) scale(1 1.04)">20</text>
<text class="t" transform="translate(753 874.5) scale(1 1.04)">40</text>
<text class="t" transform="translate(816 827.5) scale(1 1.04)">60</text>
<text class="t" transform="translate(878 782.5) scale(1 1.04)">80</text>
<text class="t" transform="translate(942 736) scale(1 1.04)">100</text>
<text class="al3" transform="translate(746 953) rotate(-33.4)">Si content (at. %)</text></g>
</g>
<text class="pt" x="1057.8" y="1107.5">(d) 1800 K</text>
</g>
<g id="panel-e">
<rect x="23.4" y="2051" width="980.5" height="977.6" fill="#000"/>
<g transform="translate(0 2027.8)"><use href="#back"/></g>
<g filter="url(#b1)"><path fill="#0000a8"  d="M222.5,2821.3L260.8,2808.8L309.1,2795.1L341.3,2785.5L341.3,2800.8L309.1,2807.2L260.8,2818.9Z"/></g><g filter="url(#bl)"><path fill="#00004c" d="M655.5,2899.3L650,2899.4L642.5,2898.3L623.5,2894.3L612.1,2889.8L595.7,2881.3L583.5,2872.7L571,2862.3L536.5,2827.5L528.5,2820.1L517,2811.1L509,2806L497.5,2800.1L490,2797.1L473.5,2792.4L452,2789.8L433.5,2789.8L393,2793L373,2795.7L325,2806.2L278.5,2814.3L265.5,2816.1L252,2816.9L248.3,2816.3L266.5,2807.9L301.3,2794.3L402.5,2760.3L427.5,2753.1L444.5,2747L465.4,2737.8L487.4,2731.3L521.5,2725.3L553.5,2722.3L577.5,2722.3L608,2725.8L628,2731.8L637,2736.3L655.7,2747.8L675.7,2763.3L689.2,2775.8L708.2,2797.3L716.5,2811.4L720.9,2824.8L723.4,2837.8L722.3,2849.8L720.5,2856L711.5,2872.8L700,2884.3L692.6,2889.3L686.5,2892.3L675,2896.9Z"/><path fill="#0000b4" d="M674,2893.2L651,2895.2L628,2890.7L614.5,2885.9L602,2879.6L588.2,2870.3L577.5,2861.7L539,2823.9L528,2814.3L519,2807.7L511.5,2803L499,2796.9L479,2790.7L464,2788.3L452.5,2787.3L432.5,2787.5L403.5,2790.2L376,2793.9L309,2808.5L298,2807.9L289,2806.6L288,2805.8L298,2799L304.5,2795.8L399,2763.1L427,2755.3L438.5,2751.4L466,2739.8L488,2733.2L519,2727.5L554.5,2724.3L577,2724.4L607.5,2728L625.5,2733.3L635.5,2737.9L654.5,2749.7L674.5,2765.2L686.5,2776.3L704.8,2796.8L714,2812.3L718.1,2824.3L720.5,2837.8L719.5,2848.8L717.5,2855.2L708.8,2871.3L698.5,2881.4L689.5,2887.1Z"/><path fill="#0028f0" d="M653.5,2890.3L640.5,2888.4L626,2884.7L616.3,2880.8L604.4,2874.8L591.5,2866.1L580.6,2857.3L550,2827.2L530.5,2810.2L512,2798.2L500,2792.8L481.5,2787.5L471.5,2785.8L453,2784.2L432,2784.5L403.5,2787.7L375.5,2792.2L309,2807.4L304.7,2806.3L300.4,2802.8L302.7,2800.3L305.5,2798.7L363,2777.4L399.5,2765L439,2754.1L466.5,2742.3L488.5,2735.6L520,2729.8L555,2727L576.5,2727L596,2728.8L608.5,2731L624.3,2735.8L634,2740.1L653,2751.8L672.7,2767.3L691.3,2785.3L702.2,2798.3L710.9,2813.3L715.2,2825.8L717,2837.8L716,2848.3L714.5,2853L709.8,2862.8L705.5,2869.4L696,2878.6L689,2883L684,2885.2L670.5,2889.3Z"/><path fill="#0090f0" d="M670.5,2885.3L653.5,2886L644.5,2884.7L627.5,2880.4L606.8,2870.8L598.5,2865.4L583.8,2853.8L552.5,2823.4L533,2806.8L515.5,2795.5L501.5,2789.5L482.5,2784.4L466,2782.3L454,2781.5L431.5,2781.9L403.5,2785.5L376,2790.6L309.5,2806.3L306.8,2805.3L306.1,2802.3L308.6,2800.3L320.5,2795.3L379.6,2773.3L400.5,2766.5L439.5,2756.4L466.5,2744.7L488.5,2737.8L520.5,2731.9L546,2729.7L576.5,2729.4L592,2730.6L606.5,2733L621,2737.2L632,2741.7L644,2748.5L664.5,2763.4L681.5,2778.8L697,2795.8L704.8,2807.3L710.5,2819.8L713.2,2829.3L714,2837.3L713.6,2844.8L711.6,2851.8L706.8,2861.8L703.6,2866.8L694.3,2875.8L686.6,2880.3Z"/><path fill="#00d2d2" d="M669.5,2882.1L651,2882L639.8,2879.8L625,2875.4L608.7,2867.3L591,2854.8L581,2846L565.3,2829.8L555,2820.3L534.9,2803.8L517,2792.4L503,2786.6L483,2781.7L456.5,2779.2L431,2779.6L403,2783.7L375.5,2789.3L310,2805.3L308.7,2805.3L308.2,2804.3L314,2800.6L329,2793.9L380,2774.6L400.5,2768L440,2758.4L467,2746.6L490.5,2739.2L516.5,2734.2L544,2731.6L578,2731.4L588,2732L602,2734L617,2738L630.5,2743.1L643,2750.2L663.2,2764.8L676,2776.4L691.4,2792.3L698.4,2801.3L702.5,2807.8L708.1,2820.3L710.8,2829.3L711.5,2837.3L711.1,2844.3L709.3,2850.3L704.5,2860.6L701.5,2865L692.9,2873.3L685.5,2877.5Z"/><path fill="#00c864" d="M667,2878.8L655.7,2878.8L641.4,2876.3L626.5,2871.8L610.6,2863.8L593,2851.4L557,2817.1L538,2801.7L518.5,2789.5L504,2783.8L493,2781.1L483.5,2779.1L467.5,2777.5L437.5,2776.8L430,2777.3L402.5,2781.6L388.5,2784.5L355,2792.4L333,2798.3L318.5,2801.3L330.6,2795.8L380.9,2776.3L401.1,2769.8L440,2760.6L467.5,2748.2L493,2740.3L517,2735.8L544.5,2733.3L577.5,2733.3L587,2733.9L601,2735.9L617.3,2740.3L629,2744.8L641.5,2751.8L651.5,2758.7L662.5,2767.1L686.5,2790.1L696.2,2802.3L701,2810.3L707.7,2827.3L708.9,2837.3L707.7,2846.3L702,2859.2L699,2863.5L693.8,2868.8L688,2872.8L676,2877.2Z"/><path fill="#10c400" d="M661.5,2871.3L645,2870.2L631,2866.8L613,2858.9L595.5,2847.2L585.5,2838.7L559.5,2814L547,2803.7L537,2796.5L520,2786.6L505,2781.1L494,2778.6L484,2776.8L448.5,2773.3L433,2770.6L432.3,2769.8L452,2757.7L461,2752.8L468,2749.8L490,2743L518,2738.3L546.5,2736.5L574,2737.4L585.5,2738.5L605.5,2742.5L626.5,2750.1L638.5,2757L648,2763.5L658.5,2771.9L672.9,2785.3L681.5,2794.3L690.5,2806.2L694.5,2813.2L698.6,2824.3L700.4,2831.8L699.9,2841.8L694.2,2854.8L692,2857.9L687.6,2862.3L681,2866.5L670,2870.2Z"/><path fill="#7cd000" d="M656,2858.3L646,2858.5L633.5,2856.6L622,2852.8L611.5,2847.4L601.2,2840.8L584.7,2827.8L563.5,2808.4L551.5,2798.5L542,2791.9L530,2784.8L517,2779.4L506.5,2776.3L455.5,2768.2L452.3,2766.3L453.6,2762.3L456.5,2758.6L462.5,2755.3L474.5,2750.8L486.5,2747.4L504.5,2744.2L533.5,2742.5L555,2743.3L570,2744.7L584.5,2747L601.6,2751.3L622,2759.6L633.5,2766.5L643,2773.2L664,2792.5L677,2807.8L680.5,2813.3L683.2,2819.3L685.4,2829.3L685.8,2834.3L684.5,2839.8L680.3,2847.3L675.5,2851.7L669.5,2854.9L663.5,2857.1Z"/><path fill="#d2dc00" d="M650.5,2849.8L637,2849.7L629,2848L623.5,2846.2L610,2839.3L587.5,2823.4L554.7,2794.8L544.5,2788L532,2780.9L518,2775.6L507.5,2772.9L461.5,2765.7L458,2764L457.2,2762.3L457.5,2760.8L459.2,2759.3L468,2755.3L480.5,2751.2L490,2749L504.5,2747.1L532.5,2746.2L551,2747.4L573,2750.6L598,2757.1L615.5,2764.6L625,2769.8L639,2779.7L661.5,2801.3L670,2812.4L673.5,2818.3L674.9,2822.8L675.6,2830.8L674.7,2835.3L673,2838.8L670.3,2841.8L662.3,2846.8L655.5,2849.1Z"/><path fill="#e8a800" d="M650,2841.6L637.5,2842.8L628,2841.1L620,2837.9L609,2832.1L590,2819.2L557,2790.9L536.5,2778.4L516.3,2771.3L495.5,2767.6L486,2766.9L473.5,2764.7L462.5,2761.9L461.8,2760.8L476.9,2754.8L491,2751.2L505,2749.5L531,2749.4L550,2751.5L567.5,2754.5L596.5,2763.2L616,2772.5L634,2784.8L655.5,2805.8L664.3,2818.3L665.8,2821.3L666.4,2824.8L666.3,2829.3L664.5,2832.8L655.5,2839.7Z"/><path fill="#e08000" d="M642,2838.9L638.5,2839L627.5,2837L610.5,2828.9L591,2815.7L559.4,2788.8L553,2784.3L540,2776.8L521,2769.8L488.5,2762.7L485.5,2760.8L484.7,2759.3L486.5,2757.3L489,2755.8L496,2753.8L506.5,2751.9L531,2751.8L562.5,2756.4L577.5,2760.2L593,2765.6L608,2772.8L626,2784.2L633.5,2790.2L646.4,2802.8L654.3,2812.3L658.6,2819.3L660,2823L660.3,2826.3L659.6,2828.8L657.5,2831.7L654,2834.8L651,2836.4Z"/><path fill="#d45c00" d="M641.5,2835.3L634,2835.3L627.5,2833.7L613,2826.9L606.1,2822.8L590,2811.3L561.5,2786.8L552.5,2780.4L541.5,2774.1L524.5,2767.6L494.1,2759.8L493.1,2758.8L498.2,2756.8L512.5,2753.8L525.8,2753.8L551.5,2757.1L565,2759.5L586.8,2765.8L606.1,2775.3L624,2787.3L631.5,2793.2L643,2804.3L652.5,2817.2L655,2824.3L653.5,2828.9L649.6,2832.3Z"/><path fill="#d81c00" d="M633.5,2823.1L628,2825.2L620.8,2823.8L613.5,2819.9L606.4,2814.8L599,2807.6L591,2800.6L587.4,2798.3L574.8,2786.8L566.5,2777.3L566.1,2775.3L567.2,2772.8L569.5,2771.4L575.5,2771.4L587.3,2773.8L602.5,2781.2L619.7,2793.8L632.5,2807.1L636,2814.4L636.6,2818.3L635.7,2820.8Z"/></g>
<clipPath id="ch-e"><path d="M309.1,2804.8C309.1,2804.8 331,2794.9 349.4,2787.9C372.7,2779 377.8,2776.6 401.7,2769.4C419,2764.2 423.6,2765.8 440.8,2760.3C455.3,2755.6 457.5,2751.8 471.9,2746.8C485.6,2742 488.9,2741.3 503.1,2738.4C517,2735.7 520.2,2735.5 534.3,2734.3C548.3,2733.1 551.4,2733 565.5,2733.2C579.5,2733.5 582.7,2733.4 596.6,2735.3C606.2,2736.7 608.3,2737.3 617.4,2740.5C627.1,2743.9 629.3,2744.8 638.2,2749.9C648.1,2755.6 650,2757.3 659,2764.4C667.8,2771.4 669.7,2773.1 677.7,2781C685.6,2789 687.7,2790.6 694.3,2799.7C699.9,2807.5 701.2,2809.5 704.7,2818.4C707.8,2826.5 708.8,2828.5 708.8,2837.1C708.8,2844.9 707.9,2846.8 704.7,2853.8C701.3,2861.1 700.4,2863.1 694.3,2868.3C687.9,2873.7 685.7,2874.4 677.7,2876.6C668.6,2879.1 666.3,2879.2 656.9,2878.7C647.4,2878.2 645.2,2877.3 636.1,2874.5C626.5,2871.7 624.2,2870.9 615.3,2866.2C606.4,2861.5 604.7,2859.9 596.6,2853.8C588.7,2847.7 587.3,2846 580,2839.2C573.2,2832.9 572.2,2831 565.5,2824.7C558.2,2817.9 556.5,2816.4 548.8,2810.1C541.6,2804.2 540.1,2802.7 532.2,2797.7C524.1,2792.4 522.4,2791 513.5,2787.3C504.5,2783.5 502.3,2783.2 492.7,2781C483.5,2779 481.4,2778.7 471.9,2777.9C458,2776.8 454.8,2776.6 440.8,2776.9C431.4,2777.1 429.3,2777.4 420,2779C402.6,2781.8 398.8,2782.8 381.6,2786.7C363.3,2790.8 359.4,2792.2 341.3,2796.8C326.8,2800.4 309.1,2804.8 309.1,2804.8Z"/></clipPath>
<g clip-path="url(#ch-e)"><g transform="translate(0 2027.8)" opacity="0.11"><use href="#fgrid"/></g></g>
<clipPath id="cp-e"><polygon  points="152.6,2555.9 619.8,2691.9 934.8,2462.7 467.6,2326.7"/></clipPath>
<polygon class="pl" points="152.6,2555.9 619.8,2691.9 934.8,2462.7 467.6,2326.7"/>
<g clip-path="url(#cp-e)"><g transform="translate(0 2027.8)"><use href="#back2"/></g></g>
<path fill="url(#st)" stroke="#5656fa" stroke-width="2.5" stroke-opacity=".55" d="M222.5,2546.4C222.5,2546.4 231.4,2529.7 240.6,2517.4C252.3,2502 256.1,2499.6 268.8,2485.2C283.3,2468.8 286.1,2464.8 301,2449C315.1,2434 318.8,2431.2 333.2,2416.8C347.7,2402.3 350.6,2398.7 365.5,2384.5C379.6,2371.1 382.8,2368.2 397.7,2355.6C411.8,2343.5 414.7,2340.4 429.9,2329.8C443.7,2320.1 447,2318.2 462.1,2310.5C476.1,2303.3 479.2,2301.4 494.3,2296.8C508.4,2292.5 511.8,2291.7 526.5,2290.7C541,2289.8 544.4,2290.2 558.7,2292.8C570,2294.8 572.5,2295.9 582.9,2300.8C592.6,2305.4 594.4,2307.2 603,2313.7C616.2,2323.6 619.2,2325.8 631.2,2337C642.8,2347.9 645.4,2350.4 655.3,2362.8C665.4,2375.5 667.3,2378.6 675.5,2392.6C683.6,2406.6 685.1,2410 691.6,2424.8C697.8,2439 698.6,2442.4 703.6,2457C708.6,2471.4 709.8,2474.5 713.7,2489.2C718,2505.4 719,2509 721.8,2525.5C724.5,2541.6 725.8,2561.7 725.8,2561.7C725.8,2561.7 722.9,2578.5 715.7,2589.9C708.9,2600.7 706.1,2602.7 695.6,2610C682.3,2619.2 679,2621.8 663.4,2626.1C645.8,2631 641.1,2632.8 623.1,2630.1C603.8,2627.2 599.9,2623.6 582.9,2614C570.5,2607.1 569.1,2603.5 558.7,2593.9C547.4,2583.5 545.4,2580.6 534.5,2569.7C525.5,2560.7 523.9,2558.2 514.4,2549.6C503.9,2540.1 502.5,2536.6 490.3,2529.5C478.6,2522.8 475.3,2521.8 462.1,2519.4C444.2,2516.3 439.9,2516.8 421.8,2517.4C385.5,2518.6 377.2,2518.1 341.3,2523.4C304.6,2529 297.2,2534.5 260.8,2541.6C243.7,2544.8 222.5,2546.4 222.5,2546.4Z"/><path fill="url(#tint)"  d="M222.5,2546.4C222.5,2546.4 231.4,2529.7 240.6,2517.4C252.3,2502 256.1,2499.6 268.8,2485.2C283.3,2468.8 286.1,2464.8 301,2449C315.1,2434 318.8,2431.2 333.2,2416.8C347.7,2402.3 350.6,2398.7 365.5,2384.5C379.6,2371.1 382.8,2368.2 397.7,2355.6C411.8,2343.5 414.7,2340.4 429.9,2329.8C443.7,2320.1 447,2318.2 462.1,2310.5C476.1,2303.3 479.2,2301.4 494.3,2296.8C508.4,2292.5 511.8,2291.7 526.5,2290.7C541,2289.8 544.4,2290.2 558.7,2292.8C570,2294.8 572.5,2295.9 582.9,2300.8C592.6,2305.4 594.4,2307.2 603,2313.7C616.2,2323.6 619.2,2325.8 631.2,2337C642.8,2347.9 645.4,2350.4 655.3,2362.8C665.4,2375.5 667.3,2378.6 675.5,2392.6C683.6,2406.6 685.1,2410 691.6,2424.8C697.8,2439 698.6,2442.4 703.6,2457C708.6,2471.4 709.8,2474.5 713.7,2489.2C718,2505.4 719,2509 721.8,2525.5C724.5,2541.6 725.8,2561.7 725.8,2561.7C725.8,2561.7 722.9,2578.5 715.7,2589.9C708.9,2600.7 706.1,2602.7 695.6,2610C682.3,2619.2 679,2621.8 663.4,2626.1C645.8,2631 641.1,2632.8 623.1,2630.1C603.8,2627.2 599.9,2623.6 582.9,2614C570.5,2607.1 569.1,2603.5 558.7,2593.9C547.4,2583.5 545.4,2580.6 534.5,2569.7C525.5,2560.7 523.9,2558.2 514.4,2549.6C503.9,2540.1 502.5,2536.6 490.3,2529.5C478.6,2522.8 475.3,2521.8 462.1,2519.4C444.2,2516.3 439.9,2516.8 421.8,2517.4C385.5,2518.6 377.2,2518.1 341.3,2523.4C304.6,2529 297.2,2534.5 260.8,2541.6C243.7,2544.8 222.5,2546.4 222.5,2546.4Z"/><path fill="#4a4aff" fill-opacity=".16" d="M222.5,2546.4C222.5,2546.4 231.4,2529.7 240.6,2517.4C252.3,2502 256.1,2499.6 268.8,2485.2C283.3,2468.8 286.1,2464.8 301,2449C315.1,2434 318.8,2431.2 333.2,2416.8C347.7,2402.3 350.6,2398.7 365.5,2384.5C379.6,2371.1 382.8,2368.2 397.7,2355.6C411.8,2343.5 414.7,2340.4 429.9,2329.8C443.7,2320.1 447,2318.2 462.1,2310.5C476.1,2303.3 479.2,2301.4 494.3,2296.8C508.4,2292.5 511.8,2291.7 526.5,2290.7C541,2289.8 544.4,2290.2 558.7,2292.8C570,2294.8 572.5,2295.9 582.9,2300.8C592.6,2305.4 594.4,2307.2 603,2313.7C616.2,2323.6 619.2,2325.8 631.2,2337C642.8,2347.9 645.4,2350.4 655.3,2362.8C665.4,2375.5 667.3,2378.6 675.5,2392.6C683.6,2406.6 685.1,2410 691.6,2424.8C697.8,2439 698.6,2442.4 703.6,2457C708.6,2471.4 709.8,2474.5 713.7,2489.2C718,2505.4 719,2509 721.8,2525.5C724.5,2541.6 725.8,2561.7 725.8,2561.7C725.8,2561.7 722.9,2578.5 715.7,2589.9C708.9,2600.7 706.1,2602.7 695.6,2610C682.3,2619.2 679,2621.8 663.4,2626.1C645.8,2631 641.1,2632.8 623.1,2630.1C603.8,2627.2 599.9,2623.6 582.9,2614C570.5,2607.1 569.1,2603.5 558.7,2593.9C547.4,2583.5 545.4,2580.6 534.5,2569.7C525.5,2560.7 523.9,2558.2 514.4,2549.6C503.9,2540.1 502.5,2536.6 490.3,2529.5C478.6,2522.8 475.3,2521.8 462.1,2519.4C444.2,2516.3 439.9,2516.8 421.8,2517.4C385.5,2518.6 377.2,2518.1 341.3,2523.4C304.6,2529 297.2,2534.5 260.8,2541.6C243.7,2544.8 222.5,2546.4 222.5,2546.4Z"/><path class="ml"  d="M234.6,2529.2C234.6,2529.2 248.4,2513.2 260.1,2500.7C271.6,2488.4 274.4,2485.9 286.3,2474C298.1,2462.2 300.6,2459.6 312.8,2448.2C324.7,2437 327.6,2434.8 339.7,2423.8C351.8,2412.8 354.3,2410 366.6,2399.2C378.7,2388.6 381.5,2386.3 393.9,2376.1C406.3,2366 408.8,2363.5 421.7,2354.2C434.1,2345.2 436.9,2343.2 450.3,2335.6C463.1,2328.3 466,2326.5 479.7,2321.1C492.9,2315.8 496,2314.5 509.9,2311.8C523.6,2309.3 526.8,2308.9 540.7,2309.5C554.6,2310.2 558,2310.1 571.3,2314.6C585.3,2319.2 587.9,2321.7 600.5,2329.5C613.7,2337.8 616.5,2340 628.4,2350.2C641,2361.1 644.1,2363.4 654.8,2376.2C666.7,2390.3 669.2,2393.8 678.5,2409.8C689,2428 690.8,2432.4 698.7,2451.8C707.4,2473.5 715.4,2501 715.4,2501"/><path class="ml"  d="M235.3,2531.1C235.3,2531.1 249.3,2516.9 261,2505.6C272.6,2494.6 275.4,2492.3 287.3,2481.7C299.1,2471.1 301.7,2468.7 313.8,2458.4C325.8,2448.3 328.7,2446.3 340.7,2436.3C352.9,2426.3 355.4,2423.8 367.6,2414C379.7,2404.2 382.5,2402.1 394.8,2392.7C407.1,2383.3 409.6,2380.9 422.3,2372.2C434.7,2363.7 437.4,2361.7 450.6,2354.4C463.2,2347.3 466.1,2345.6 479.6,2340.3C492.6,2335.2 495.6,2333.9 509.3,2331.3C522.7,2328.7 525.9,2328.3 539.5,2328.7C553.2,2329 556.5,2328.9 569.7,2332.8C583.4,2336.7 586.1,2338.9 598.6,2345.8C611.7,2353.1 614.5,2355 626.4,2364.2C639,2373.9 642,2376 652.9,2387.7C664.8,2400.6 667.3,2403.8 676.8,2418.7C687.5,2435.4 689.4,2439.5 697.5,2457.7C706.5,2478 714.7,2504 714.7,2504"/><path class="ml"  d="M236.1,2533C236.1,2533 250.1,2520.5 262,2510.6C273.7,2500.8 276.4,2498.8 288.3,2489.3C300.2,2479.9 302.8,2477.8 314.9,2468.7C326.9,2459.6 329.7,2457.8 341.8,2448.8C353.9,2439.8 356.4,2437.7 368.6,2428.7C380.7,2419.9 383.5,2418 395.7,2409.3C407.9,2400.6 410.5,2398.4 423,2390.2C435.3,2382.1 437.9,2380.2 450.8,2373.2C463.4,2366.4 466.1,2364.7 479.4,2359.6C492.2,2354.6 495.2,2353.4 508.7,2350.7C521.8,2348.1 525,2347.7 538.4,2347.8C551.8,2347.8 555,2347.7 568.1,2351C581.5,2354.3 584.2,2356.2 596.7,2362.2C609.7,2368.4 612.5,2370 624.4,2378.1C637,2386.7 640,2388.6 650.9,2399.2C662.9,2410.9 665.4,2413.9 675.1,2427.6C685.9,2442.9 688,2446.7 696.3,2463.5C705.6,2482.5 714,2507 714,2507"/><path class="ml"  d="M236.8,2534.9C236.8,2534.9 251,2524.1 262.9,2515.5C274.7,2507 277.4,2505.3 289.3,2497C301.3,2488.8 303.9,2487 316,2479C328,2470.9 330.8,2469.3 342.8,2461.4C354.9,2453.4 357.5,2451.5 369.6,2443.5C381.7,2435.5 384.5,2433.8 396.6,2425.9C408.8,2417.9 411.3,2415.8 423.7,2408.1C435.8,2400.6 438.4,2398.7 451.1,2392C463.5,2385.5 466.2,2383.8 479.2,2378.8C491.9,2374 494.8,2372.8 508,2370.1C521,2367.5 524,2367.1 537.3,2366.9C550.4,2366.7 553.5,2366.6 566.5,2369.2C579.6,2371.8 582.4,2373.4 594.8,2378.5C607.7,2383.7 610.6,2385 622.4,2392.1C635,2399.5 637.9,2401.2 649,2410.8C661,2421.2 663.6,2423.9 673.4,2436.4C684.4,2450.4 686.6,2453.8 695.1,2469.4C704.6,2487 713.3,2509.9 713.3,2509.9"/><path class="ml"  d="M237.6,2536.9C237.6,2536.9 251.9,2527.7 263.8,2520.5C275.7,2513.2 278.4,2511.7 290.4,2504.7C302.3,2497.7 305,2496.1 317,2489.2C329.1,2482.3 331.8,2480.8 343.9,2473.9C355.9,2466.9 358.6,2465.3 370.6,2458.3C382.7,2451.2 385.5,2449.7 397.5,2442.4C409.6,2435.2 412.1,2433.3 424.3,2426.1C436.4,2419 438.9,2417.1 451.4,2410.7C463.6,2404.5 466.3,2402.9 479.1,2398.1C491.5,2393.4 494.4,2392.3 507.4,2389.5C520.1,2386.9 523.1,2386.5 536.1,2386C549,2385.5 552.1,2385.4 564.9,2387.4C577.8,2389.3 580.6,2390.6 593,2394.8C605.6,2399.1 608.6,2400 620.5,2406C633,2412.4 635.9,2413.8 647,2422.3C659.1,2431.5 661.6,2433.9 671.7,2445.3C682.8,2457.9 685.2,2460.9 693.9,2475.3C703.7,2491.4 712.7,2512.9 712.7,2512.9"/><path class="ml"  d="M238.3,2538.8C238.3,2538.8 252.8,2531.4 264.8,2525.4C276.7,2519.5 279.4,2518.2 291.4,2512.4C303.4,2506.5 306.1,2505.3 318.1,2499.5C330.2,2493.6 332.9,2492.3 344.9,2486.4C357,2480.4 359.7,2479.2 371.6,2473C383.7,2466.9 386.4,2465.5 398.4,2459C410.4,2452.5 413,2450.8 425,2444.1C437,2437.5 439.4,2435.6 451.7,2429.5C463.7,2423.6 466.4,2422 478.9,2417.3C491.2,2412.8 494,2411.8 506.7,2409C519.3,2406.2 522.2,2405.9 535,2405.2C547.7,2404.4 550.6,2404.2 563.3,2405.5C576,2406.9 578.7,2407.9 591.1,2411.1C603.6,2414.4 606.6,2414.9 618.5,2420C630.9,2425.2 633.8,2426.4 645.1,2433.8C657.1,2441.8 659.7,2444 670,2454.2C681.2,2465.3 683.7,2468 692.7,2481.1C702.7,2495.9 712,2515.8 712,2515.8"/><path class="ml"  d="M239,2540.7C239,2540.7 253.7,2535 265.7,2530.4C277.7,2525.7 280.4,2524.7 292.4,2520C304.5,2515.4 307.2,2514.5 319.2,2509.7C331.3,2504.9 333.9,2503.8 345.9,2498.9C358,2494 360.7,2493 372.7,2487.8C384.7,2482.5 387.4,2481.4 399.3,2475.6C411.3,2469.8 413.8,2468.3 425.6,2462.1C437.5,2456 439.9,2454.1 452,2448.3C463.8,2442.6 466.4,2441.1 478.8,2436.6C490.8,2432.2 493.6,2431.2 506.1,2428.4C518.4,2425.6 521.3,2425.3 533.8,2424.3C546.3,2423.2 549.1,2423 561.6,2423.7C574.2,2424.5 576.9,2425.2 589.2,2427.5C601.6,2429.8 604.5,2429.9 616.5,2433.9C628.9,2438 631.8,2439 643.1,2445.4C655.2,2452.2 657.8,2454 668.3,2463C679.7,2472.8 682.3,2475.1 691.4,2487C701.8,2500.3 711.3,2518.8 711.3,2518.8"/><path fill="url(#gs)"  d="M226.6,2546.4C226.6,2546.4 256.5,2539.7 280.9,2533.5C308.2,2526.6 314.4,2525.5 341.3,2517.4C368.7,2509.2 375.1,2507.9 401.7,2497.3C429.5,2486.1 434.4,2480.7 462.1,2469.1C479.8,2461.7 483.7,2459.7 502.3,2455C520.1,2450.6 524.3,2450.3 542.6,2449C560.7,2447.6 564.8,2447.6 582.9,2449C601.1,2450.3 605.6,2449.7 623.1,2455C642.1,2460.7 646.6,2462.4 663.4,2473.1C679.6,2483.5 683,2486.7 695.6,2501.3C706.8,2514.2 708.2,2518.1 715.7,2533.5C721.6,2545.5 725,2561.7 725,2561.7C725,2561.7 722.7,2578.5 715.7,2589.9C709.1,2600.8 706.1,2602.7 695.6,2610C682.3,2619.2 679,2621.8 663.4,2626.1C645.8,2631 641.1,2632.8 623.1,2630.1C603.8,2627.2 599.9,2623.6 582.9,2614C570.5,2607.1 569.1,2603.5 558.7,2593.9C547.4,2583.5 545.4,2580.6 534.5,2569.7C525.5,2560.7 523.9,2558.2 514.4,2549.6C503.9,2540.1 502.5,2536.6 490.3,2529.5C478.6,2522.8 475.3,2521.8 462.1,2519.4C444.2,2516.3 439.9,2516.8 421.8,2517.4C385.5,2518.6 377.2,2518.1 341.3,2523.4C304.6,2529 297.2,2534.3 260.8,2541.6C245.5,2544.6 226.6,2546.4 226.6,2546.4Z"/>
<clipPath id="cq-e"><path d="M226.6,2546.4C226.6,2546.4 256.5,2539.7 280.9,2533.5C308.2,2526.6 314.4,2525.5 341.3,2517.4C368.7,2509.2 375.1,2507.9 401.7,2497.3C429.5,2486.1 434.4,2480.7 462.1,2469.1C479.8,2461.7 483.7,2459.7 502.3,2455C520.1,2450.6 524.3,2450.3 542.6,2449C560.7,2447.6 564.8,2447.6 582.9,2449C601.1,2450.3 605.6,2449.7 623.1,2455C642.1,2460.7 646.6,2462.4 663.4,2473.1C679.6,2483.5 683,2486.7 695.6,2501.3C706.8,2514.2 708.2,2518.1 715.7,2533.5C721.6,2545.5 725,2561.7 725,2561.7C725,2561.7 722.7,2578.5 715.7,2589.9C709.1,2600.8 706.1,2602.7 695.6,2610C682.3,2619.2 679,2621.8 663.4,2626.1C645.8,2631 641.1,2632.8 623.1,2630.1C603.8,2627.2 599.9,2623.6 582.9,2614C570.5,2607.1 569.1,2603.5 558.7,2593.9C547.4,2583.5 545.4,2580.6 534.5,2569.7C525.5,2560.7 523.9,2558.2 514.4,2549.6C503.9,2540.1 502.5,2536.6 490.3,2529.5C478.6,2522.8 475.3,2521.8 462.1,2519.4C444.2,2516.3 439.9,2516.8 421.8,2517.4C385.5,2518.6 377.2,2518.1 341.3,2523.4C304.6,2529 297.2,2534.3 260.8,2541.6C245.5,2544.6 226.6,2546.4 226.6,2546.4Z"/></clipPath>
<g clip-path="url(#cq-e)"><g transform="translate(0 2027.8)"><use href="#back2"/></g></g>
<g transform="translate(0 2027.8)">
<use href="#front"/>
<g class="labels"><text class="t" transform="translate(89.5 270.5) scale(1 1.04)">10<tspan class="sp" dx="1.5" dy="-16.5">20</tspan></text>
<text class="t" transform="translate(87 411.3) scale(1 1.04)">10<tspan class="sp" dx="3.5" dy="-16.5">10</tspan></text>
<text class="t" transform="translate(109.5 542) scale(1 1.04)">0</text>
<text class="al" transform="translate(40.5 222.5) rotate(90)">Concentration (#/m<tspan class="sp2" dy="-13">3</tspan><tspan dy="13">)</tspan></text>
<text class="t" transform="translate(191.5 853) scale(1 1.04)">1</text>
<text class="t" transform="translate(367.5 909) scale(1 1.04)">10</text>
<text class="t" transform="translate(541.5 968) scale(1 1.04)">100</text>
<text class="al2" transform="translate(172.5 890) rotate(15.5)">Particle diameter (nm)</text>
<text class="t" transform="translate(627.5 964.5) scale(1 1.04)">0</text>
<text class="t" transform="translate(689.5 918.5) scale(1 1.04)">20</text>
<text class="t" transform="translate(753 874.5) scale(1 1.04)">40</text>
<text class="t" transform="translate(816 827.5) scale(1 1.04)">60</text>
<text class="t" transform="translate(878 782.5) scale(1 1.04)">80</text>
<text class="t" transform="translate(942 736) scale(1 1.04)">100</text>
<text class="al3" transform="translate(746 953) rotate(-33.4)">Si content (at. %)</text></g>
</g>
<text class="pt" x="39" y="2127.5">(e) 1650 K</text>
</g>
<g id="panel-f">
<rect x="1043.8" y="2051" width="980.5" height="977.6" fill="#000"/>
<g transform="translate(1018.7 2031)"><use href="#back"/></g>
<g filter="url(#b1)"><path fill="#0000a8"  d="M1329.6,2797.2L1362.3,2781.6L1399.7,2767.3L1424.7,2757.3L1424.7,2782.9L1399.7,2786L1362.3,2792.8Z"/></g><g filter="url(#bl)"><path fill="#00004c" d="M1707.1,2898L1689.1,2897.7L1673.6,2895.6L1650.1,2888.5L1631.8,2879.9L1617.1,2871L1595.1,2853.6L1575.6,2836.6L1554.6,2815.3L1540.1,2803.5L1521.6,2792.8L1512.6,2788.9L1502.1,2785.4L1492.6,2783.3L1478.1,2781.3L1460.1,2780.7L1434.1,2782.8L1373.1,2790.3L1354.1,2791.2L1350.8,2790.4L1362.1,2783.1L1386.6,2769.4L1457.4,2737.4L1480.6,2728.2L1502.6,2720.7L1533.1,2712.6L1549.1,2710L1568.6,2707.9L1600.6,2708.5L1627.6,2713.1L1652.6,2721.3L1672,2731.4L1685.1,2740.3L1705.6,2756.3L1729.2,2778.9L1744.3,2795.9L1758.1,2816.3L1763.6,2826.4L1769,2842.4L1769.5,2847.9L1768.6,2854.9L1767.1,2861.4L1765.1,2865.7L1762.1,2870.9L1756.1,2878.9L1751.6,2882.9L1744.6,2887.2L1734.1,2892.4L1715.1,2897.2Z"/><path fill="#0000b4" d="M1710.6,2894.4L1701.6,2894.9L1690.1,2894.4L1674.6,2892.5L1648.6,2884.6L1633.6,2877.7L1618.6,2869L1596.1,2851.7L1577.1,2834.9L1557,2814.9L1545.1,2805.1L1526.1,2793.4L1511.6,2787.2L1493.1,2782.2L1477.1,2780.1L1459.6,2779.6L1431.6,2781.8L1396.1,2783.2L1386.6,2782.3L1383.2,2781.4L1382.5,2780.4L1388.3,2772.9L1393.6,2769L1458.1,2740.5L1494.6,2726.5L1533.6,2715.4L1550.1,2712.6L1569.1,2710.3L1591.1,2710.3L1611.1,2712.3L1622.6,2714.5L1645.1,2721.3L1652.6,2724.4L1673.4,2735.4L1690.1,2747.2L1706.1,2760.1L1726.9,2780.4L1742.1,2797L1756.4,2817.4L1763.1,2830.9L1766.5,2843.4L1766.1,2854.4L1762.6,2864.1L1759.9,2868.9L1753.7,2876.9L1749.6,2880.5L1743.1,2884.5L1733.1,2889.2L1723.1,2892.2Z"/><path fill="#0028f0" d="M1710.1,2890.5L1695.6,2890.8L1684.1,2890.1L1675.1,2888.6L1647.1,2880.2L1635.1,2874.7L1620.1,2866.3L1605.6,2856.1L1591,2843.9L1558.6,2813L1548.1,2804.5L1531.1,2794L1512.1,2785.6L1500.1,2782L1490.1,2780L1477.6,2778.4L1458.6,2777.9L1430.6,2780L1396.6,2778.1L1394,2776.9L1393.7,2773.4L1396.2,2770.9L1475.5,2737.4L1503.1,2727.5L1534.6,2718.6L1567.1,2713.5L1577.6,2713L1590.6,2713.3L1612.1,2715.5L1626.6,2718.8L1644.1,2724.4L1658.1,2730.9L1674.1,2739.7L1688.1,2749.4L1704.6,2762.8L1740,2798.9L1754,2818.4L1759.6,2828.9L1763.3,2842.9L1763.2,2852.9L1759.5,2862.4L1752.8,2872.4L1749.6,2875.9L1745.3,2878.9L1736.1,2883.6L1723.1,2888.4Z"/><path fill="#0090f0" d="M1707.6,2887.5L1685.1,2886.9L1676.6,2885.4L1648.1,2877.2L1634.6,2871L1621.5,2863.9L1606.9,2853.9L1592.6,2842.2L1560.1,2811.3L1549.6,2802.8L1536.6,2794.6L1525.6,2789.1L1513.1,2784.1L1502.1,2780.8L1491.1,2778.5L1478.1,2776.9L1457.1,2776.3L1439.1,2778.1L1430.6,2778.1L1399.2,2773.4L1449.1,2751.4L1489.6,2735.4L1518.6,2725.9L1535.6,2721.4L1567.6,2715.9L1581.6,2715.4L1611.1,2717.9L1636.2,2724.4L1646.5,2728.4L1672.4,2741.9L1686.6,2751.6L1703,2764.9L1737.6,2800L1750.1,2816.8L1757.2,2829.4L1758.5,2832.9L1760.5,2843.4L1760.5,2851.9L1755.6,2863.1L1750.1,2870.8L1743.6,2876.2L1739.1,2878.8L1721.6,2885.4Z"/><path fill="#00d2d2" d="M1710.6,2881.4L1698.1,2881.9L1686.6,2881.1L1675.6,2879.3L1650.1,2871.7L1637.6,2866.3L1624.6,2859L1610.2,2849.4L1595.1,2836.9L1553,2798.9L1540.3,2790.4L1527.6,2784.1L1511.1,2778.2L1491.6,2774.5L1437.6,2771.2L1432.7,2769.4L1432.8,2766.9L1434.8,2763.4L1437.6,2760.8L1477.1,2742.9L1504.6,2733.2L1519.6,2728.9L1539.6,2724.3L1570.1,2719.5L1589.1,2719.5L1602.1,2720.5L1612.6,2722.3L1634.1,2728.1L1642.1,2731L1652.1,2735.6L1667.4,2743.9L1686.1,2757.1L1702.1,2770.2L1733.3,2801.4L1746.2,2818.4L1752.2,2829.9L1753.6,2834.4L1755,2844.4L1754.8,2850.4L1752.1,2857.9L1747.8,2864.4L1742.3,2869.9L1737.1,2873.5L1720.6,2879.8Z"/><path fill="#00c864" d="M1715.6,2875L1699.1,2876.2L1674.1,2873.2L1654.6,2867.1L1638.1,2860.1L1613.6,2844.8L1581.1,2817.3L1553.1,2791.9L1540.6,2783.9L1530.1,2778.9L1513.6,2773.4L1508.1,2772.2L1487.6,2769.6L1467.1,2768.8L1449.1,2765.8L1441.7,2763.9L1469.2,2749.4L1492.9,2739.9L1526.6,2730.4L1556.1,2725.2L1572.1,2723.1L1589.1,2723.1L1601.1,2724.2L1616.1,2727.3L1640.6,2734.8L1650.1,2739.1L1664.6,2747.3L1686.1,2763.2L1703.6,2777.7L1732.4,2806.9L1742.2,2820.4L1746,2827.9L1747.8,2832.4L1749.4,2846.4L1748.1,2853.1L1743.3,2860.4L1737.8,2865.9L1730.3,2870.4Z"/><path fill="#10c400" d="M1701.6,2870.9L1675.1,2868.2L1656.6,2862.8L1641.6,2856.6L1626.6,2848.2L1616.1,2841.3L1593.5,2822.9L1561.6,2793.4L1551.7,2785.4L1546.2,2781.9L1525.6,2772.2L1512.6,2768L1491.2,2762.9L1478.6,2758.9L1477.5,2757.9L1484.1,2751.9L1493.5,2745.4L1505.6,2739.9L1526.1,2733.9L1536.1,2731.7L1568.6,2726.7L1588.1,2726.3L1600.1,2727.3L1608.1,2728.8L1632.6,2735.8L1646.6,2741.8L1659.1,2748.8L1669.9,2756.4L1701.6,2781.6L1729.1,2809.1L1737.6,2820.9L1741.8,2829.4L1743.8,2836.4L1744,2845.9L1742.1,2852.4L1737.6,2858.3L1731.6,2863.4L1724.1,2866.9L1714.1,2869.7Z"/><path fill="#7cd000" d="M1704.1,2861.4L1691.6,2861.5L1682.6,2860.8L1660.6,2855.7L1647.6,2850.6L1625.6,2839.2L1609.2,2827.4L1597.1,2817.6L1577.8,2799.4L1569.3,2790.4L1555.1,2778.8L1549.6,2775.1L1535.6,2767.9L1517.6,2760.7L1504.6,2756.4L1502.2,2753.9L1503.1,2749.9L1504.7,2747.9L1507.6,2746.3L1533.6,2737.8L1555.6,2733.5L1574.1,2732L1594.1,2732.1L1609.6,2734.8L1625.8,2739.4L1633.6,2742.7L1644.6,2748.5L1661.1,2759.3L1697.1,2787.3L1722.1,2811L1732.6,2826.4L1735.6,2834.4L1736,2837.9L1734.1,2846.6L1730.9,2851.4L1727.1,2855L1720.6,2858.4L1713.1,2860.3Z"/><path fill="#d2dc00" d="M1700.1,2855.4L1683.6,2854.9L1662.5,2850.4L1650.1,2845.6L1627.6,2834.6L1612.1,2823.7L1599.8,2813.9L1581.6,2796.3L1572.6,2786.4L1558.1,2774.4L1552.6,2770.6L1538.1,2763L1510.4,2750.9L1519.6,2746.9L1535.1,2741.5L1550.1,2738L1565.6,2735.9L1593.1,2735.9L1601.1,2737L1619.4,2741.4L1631.2,2746.4L1652.1,2759.1L1694,2791.4L1718,2813.4L1724.8,2822.9L1728.1,2828.9L1730.4,2836.4L1729.3,2840.9L1727.1,2845.2L1723.6,2849.2L1717.6,2852.4L1711.6,2853.9Z"/><path fill="#e8a800" d="M1700.6,2843.8L1691.6,2844.9L1675.6,2843.4L1667.1,2841.8L1657.6,2838.8L1645.1,2833.6L1634.1,2827.9L1618.6,2817L1608.1,2808.1L1602.1,2801.6L1594,2794.4L1590.9,2790.4L1577.5,2776.9L1569.6,2770.5L1545.6,2754.4L1540.7,2749.9L1552.6,2745L1561.6,2742.8L1575.1,2741.2L1585.6,2741.2L1595.1,2743.2L1608.6,2747.3L1642.6,2765.5L1658.1,2775.6L1674.1,2787.4L1701.2,2809.9L1709.5,2818.4L1713,2825.9L1713.7,2830.9L1713,2834.4L1710.6,2837.7L1705.1,2841.9Z"/><path fill="#e08000" d="M1693.1,2839.5L1676.6,2838.8L1660.6,2835.5L1646.6,2829.5L1634.3,2822.9L1623.1,2814.9L1611.1,2804.7L1598.1,2791.2L1581.1,2771.9L1567.6,2758.9L1565,2754.9L1565.1,2752.9L1570.1,2749.4L1576.1,2748L1584.6,2747.5L1595.1,2748.3L1606.1,2751L1610.6,2752.8L1641.6,2770.3L1671.6,2791.7L1681.1,2800.2L1696.7,2811.9L1705,2820.4L1707.6,2826.4L1707.8,2830.4L1707.1,2832.4L1701.1,2837.4Z"/><path fill="#d45c00" d="M1689.1,2835L1678.1,2834.9L1662.1,2832.2L1653.8,2828.9L1635.1,2819.3L1614.6,2802.9L1592.1,2777L1575.6,2756.4L1575.3,2754.9L1592.6,2752.7L1605.1,2754.9L1618.3,2760.9L1639.6,2773.6L1669.6,2795.4L1678.1,2803.2L1694.8,2815.4L1699.1,2819.8L1702.7,2825.4L1702.9,2828.4L1702.2,2829.9L1698.1,2833.1Z"/><path fill="#d81c00" d="M1665.1,2819L1656.6,2817.3L1644.4,2811.9L1639.1,2808.7L1626.6,2798.8L1622.7,2792.4L1623.1,2789.9L1629.6,2786L1634.6,2785.4L1643.1,2787.9L1659.1,2798.2L1670.1,2807.1L1674.4,2811.9L1673.6,2814.7L1671.1,2817.4Z"/></g>
<clipPath id="ch-f"><path d="M1440.3,2764.2C1440.3,2764.2 1458.6,2753.6 1474.5,2747C1490.9,2740.2 1494.8,2739.2 1511.9,2734.5C1528.5,2730.1 1532.3,2729.2 1549.4,2726.8C1566.1,2724.3 1569.9,2722.9 1586.8,2723.6C1603.8,2724.3 1607.7,2725.4 1624.2,2729.9C1638.7,2733.8 1642.1,2735.1 1655.3,2742.3C1670.3,2750.6 1673.1,2753.5 1686.5,2764.2C1699.7,2774.6 1702.6,2777.1 1714.5,2789.1C1726.5,2801 1730.3,2803 1739.5,2817.1C1746,2827.2 1748,2830.1 1748.8,2842.1C1749.5,2850.9 1748.5,2854.2 1742.6,2860.8C1735,2869.2 1731.7,2870.4 1720.8,2873.2C1707.2,2876.8 1703.6,2876.1 1689.6,2874.8C1673.9,2873.3 1670.2,2872.3 1655.3,2867C1640.6,2861.7 1637.4,2859.8 1624.2,2851.4C1610.6,2842.9 1608.4,2839.8 1596.1,2829.6C1584.6,2820.1 1582.4,2817.6 1571.2,2807.8C1561.4,2799.3 1560.1,2796.3 1549.4,2789.1C1538.9,2782.1 1536.2,2780.8 1524.4,2776.6C1512.2,2772.3 1509.2,2772.2 1496.4,2770.4C1483.8,2768.7 1480.9,2770.2 1468.3,2768.8C1455.6,2767.4 1440.3,2764.2 1440.3,2764.2Z"/></clipPath>
<g clip-path="url(#ch-f)"><g transform="translate(1018.7 2031)" opacity="0.11"><use href="#fgrid"/></g></g>
<clipPath id="cp-f"><polygon  points="1171.3,2559.1 1638.5,2695.1 1953.5,2465.9 1486.3,2329.9"/></clipPath>
<polygon class="pl" points="1171.3,2559.1 1638.5,2695.1 1953.5,2465.9 1486.3,2329.9"/>
<g clip-path="url(#cp-f)"><g transform="translate(1018.7 2031)"><use href="#back2"/></g></g>
<path fill="url(#st)" stroke="#5656fa" stroke-width="2.5" stroke-opacity=".55" d="M1321,2524.2C1321,2524.2 1331.6,2509 1341.2,2497.3C1353.3,2482.4 1356.6,2479.5 1369.4,2465.1C1383.8,2448.7 1387.1,2445.1 1401.6,2428.8C1416.1,2412.5 1419.3,2408.9 1433.8,2392.6C1448.3,2376.3 1450.5,2371.8 1466,2356.4C1479.6,2342.7 1482.8,2339.7 1498.2,2328.2C1511.9,2317.9 1514.9,2315.3 1530.4,2308.1C1544.1,2301.6 1547.6,2300.3 1562.6,2298C1576.9,2295.7 1580.4,2296.1 1594.8,2298C1607.9,2299.7 1610.9,2300.8 1623,2306C1638.2,2312.7 1641.6,2314.6 1655.2,2324.2C1668.9,2333.7 1671.6,2336.5 1683.4,2348.3C1695.2,2360.1 1697.7,2363 1707.5,2376.5C1717.6,2390.3 1719.7,2393.6 1727.7,2408.7C1736,2424.5 1737.3,2428.3 1743.8,2444.9C1750,2461 1750.8,2464.7 1755.8,2481.2C1760.8,2497.4 1761.6,2501 1765.9,2517.4C1769.7,2531.8 1770.1,2535.2 1774,2549.6C1776,2557.3 1779.2,2566.5 1779.2,2566.5C1779.2,2566.5 1767.5,2580.7 1755.8,2589.9C1742.4,2600.4 1739.3,2603.1 1723.6,2610C1706.4,2617.7 1702.2,2620.2 1683.4,2622.1C1665.3,2623.9 1660.8,2622.5 1643.1,2618.1C1624.2,2613.3 1620.3,2610.7 1602.9,2601.9C1591.2,2596.1 1588.7,2594.2 1578.7,2585.8C1566.9,2576 1565.4,2572.6 1554.5,2561.7C1543.7,2550.8 1541.5,2548.1 1530.4,2537.5C1521.6,2529.1 1521.2,2524.9 1510.3,2519.4C1498.7,2513.6 1495,2514.3 1482.1,2513.4C1455,2511.5 1448.8,2512.5 1421.7,2513.4C1394.5,2514.3 1388.4,2514.5 1361.3,2517.4C1343,2519.4 1321,2524.2 1321,2524.2Z"/><path fill="url(#tint)"  d="M1321,2524.2C1321,2524.2 1331.6,2509 1341.2,2497.3C1353.3,2482.4 1356.6,2479.5 1369.4,2465.1C1383.8,2448.7 1387.1,2445.1 1401.6,2428.8C1416.1,2412.5 1419.3,2408.9 1433.8,2392.6C1448.3,2376.3 1450.5,2371.8 1466,2356.4C1479.6,2342.7 1482.8,2339.7 1498.2,2328.2C1511.9,2317.9 1514.9,2315.3 1530.4,2308.1C1544.1,2301.6 1547.6,2300.3 1562.6,2298C1576.9,2295.7 1580.4,2296.1 1594.8,2298C1607.9,2299.7 1610.9,2300.8 1623,2306C1638.2,2312.7 1641.6,2314.6 1655.2,2324.2C1668.9,2333.7 1671.6,2336.5 1683.4,2348.3C1695.2,2360.1 1697.7,2363 1707.5,2376.5C1717.6,2390.3 1719.7,2393.6 1727.7,2408.7C1736,2424.5 1737.3,2428.3 1743.8,2444.9C1750,2461 1750.8,2464.7 1755.8,2481.2C1760.8,2497.4 1761.6,2501 1765.9,2517.4C1769.7,2531.8 1770.1,2535.2 1774,2549.6C1776,2557.3 1779.2,2566.5 1779.2,2566.5C1779.2,2566.5 1767.5,2580.7 1755.8,2589.9C1742.4,2600.4 1739.3,2603.1 1723.6,2610C1706.4,2617.7 1702.2,2620.2 1683.4,2622.1C1665.3,2623.9 1660.8,2622.5 1643.1,2618.1C1624.2,2613.3 1620.3,2610.7 1602.9,2601.9C1591.2,2596.1 1588.7,2594.2 1578.7,2585.8C1566.9,2576 1565.4,2572.6 1554.5,2561.7C1543.7,2550.8 1541.5,2548.1 1530.4,2537.5C1521.6,2529.1 1521.2,2524.9 1510.3,2519.4C1498.7,2513.6 1495,2514.3 1482.1,2513.4C1455,2511.5 1448.8,2512.5 1421.7,2513.4C1394.5,2514.3 1388.4,2514.5 1361.3,2517.4C1343,2519.4 1321,2524.2 1321,2524.2Z"/><path fill="#4a4aff" fill-opacity=".16" d="M1321,2524.2C1321,2524.2 1331.6,2509 1341.2,2497.3C1353.3,2482.4 1356.6,2479.5 1369.4,2465.1C1383.8,2448.7 1387.1,2445.1 1401.6,2428.8C1416.1,2412.5 1419.3,2408.9 1433.8,2392.6C1448.3,2376.3 1450.5,2371.8 1466,2356.4C1479.6,2342.7 1482.8,2339.7 1498.2,2328.2C1511.9,2317.9 1514.9,2315.3 1530.4,2308.1C1544.1,2301.6 1547.6,2300.3 1562.6,2298C1576.9,2295.7 1580.4,2296.1 1594.8,2298C1607.9,2299.7 1610.9,2300.8 1623,2306C1638.2,2312.7 1641.6,2314.6 1655.2,2324.2C1668.9,2333.7 1671.6,2336.5 1683.4,2348.3C1695.2,2360.1 1697.7,2363 1707.5,2376.5C1717.6,2390.3 1719.7,2393.6 1727.7,2408.7C1736,2424.5 1737.3,2428.3 1743.8,2444.9C1750,2461 1750.8,2464.7 1755.8,2481.2C1760.8,2497.4 1761.6,2501 1765.9,2517.4C1769.7,2531.8 1770.1,2535.2 1774,2549.6C1776,2557.3 1779.2,2566.5 1779.2,2566.5C1779.2,2566.5 1767.5,2580.7 1755.8,2589.9C1742.4,2600.4 1739.3,2603.1 1723.6,2610C1706.4,2617.7 1702.2,2620.2 1683.4,2622.1C1665.3,2623.9 1660.8,2622.5 1643.1,2618.1C1624.2,2613.3 1620.3,2610.7 1602.9,2601.9C1591.2,2596.1 1588.7,2594.2 1578.7,2585.8C1566.9,2576 1565.4,2572.6 1554.5,2561.7C1543.7,2550.8 1541.5,2548.1 1530.4,2537.5C1521.6,2529.1 1521.2,2524.9 1510.3,2519.4C1498.7,2513.6 1495,2514.3 1482.1,2513.4C1455,2511.5 1448.8,2512.5 1421.7,2513.4C1394.5,2514.3 1388.4,2514.5 1361.3,2517.4C1343,2519.4 1321,2524.2 1321,2524.2Z"/><path class="ml"  d="M1332.8,2509.8C1332.8,2509.8 1345.4,2495 1356.2,2483.4C1366.7,2472 1369.4,2469.8 1380.2,2458.6C1390.9,2447.4 1393.4,2445 1404.1,2433.8C1414.9,2422.5 1417.3,2420 1428,2408.6C1438.7,2397.2 1440.7,2394.3 1451.7,2383.2C1462.4,2372.3 1464.5,2369.7 1476.1,2359.7C1487,2350.3 1489.6,2348.3 1501.6,2340.3C1513.1,2332.6 1515.6,2330.6 1528.1,2324.8C1540,2319.3 1542.8,2318.1 1555.6,2315.3C1568,2312.6 1571,2312.4 1583.7,2312.9C1596.5,2313.3 1599.4,2313.9 1611.7,2317.4C1624.5,2321 1627.2,2322.5 1638.9,2328.7C1651.3,2335.2 1654,2337 1665.1,2345.6C1677,2354.7 1679.5,2357 1689.8,2367.9C1701,2379.6 1703.5,2382.3 1712.8,2395.5C1723.1,2410.2 1725.3,2413.7 1733.3,2429.7C1742.3,2447.7 1743.7,2452 1750.5,2470.9C1758,2491.6 1765.2,2517.6 1765.2,2517.6"/><path class="ml"  d="M1333.3,2510.9C1333.3,2510.9 1346,2497.2 1356.8,2486.4C1367.3,2476 1370,2474 1380.7,2463.7C1391.5,2453.5 1394,2451.2 1404.7,2440.9C1415.5,2430.4 1417.8,2428 1428.5,2417.5C1439.2,2407 1441.3,2404.3 1452.3,2394C1462.9,2384.1 1465.2,2381.6 1476.6,2372.6C1487.6,2363.9 1490.1,2362 1502,2354.6C1513.4,2347.5 1515.9,2345.8 1528.2,2340.4C1540,2335.3 1542.7,2334.1 1555.3,2331.5C1567.5,2329 1570.5,2328.7 1583,2329C1595.5,2329.3 1598.4,2329.7 1610.6,2332.8C1623.1,2336.1 1625.8,2337.3 1637.5,2342.9C1649.7,2348.9 1652.4,2350.5 1663.4,2358.4C1675.2,2366.8 1677.7,2368.9 1688.1,2379C1699.2,2389.8 1701.7,2392.3 1711.1,2404.6C1721.4,2418.3 1723.6,2421.6 1731.8,2436.6C1740.9,2453.3 1742.5,2457.3 1749.6,2475C1757.3,2494.4 1764.7,2518.8 1764.7,2518.8"/><path class="ml"  d="M1333.9,2512C1333.9,2512 1346.5,2499.3 1357.3,2489.5C1367.9,2479.9 1370.6,2478.2 1381.3,2468.9C1392.1,2459.5 1394.6,2457.5 1405.3,2448C1416.1,2438.4 1418.3,2436.1 1429.1,2426.4C1439.7,2416.7 1441.9,2414.3 1452.8,2404.9C1463.5,2395.8 1465.8,2393.6 1477.1,2385.4C1488.1,2377.4 1490.6,2375.7 1502.3,2369C1513.7,2362.5 1516.2,2360.9 1528.3,2356C1540,2351.3 1542.7,2350.2 1555,2347.7C1567.1,2345.3 1569.9,2345 1582.3,2345.1C1594.6,2345.2 1597.4,2345.6 1609.4,2348.3C1621.7,2351.1 1624.5,2352.1 1636,2357.2C1648.1,2362.5 1650.7,2364 1661.7,2371.2C1673.4,2378.9 1675.9,2380.8 1686.3,2390.1C1697.4,2400 1699.9,2402.3 1709.4,2413.8C1719.7,2426.4 1721.9,2429.4 1730.3,2443.4C1739.5,2458.8 1741.3,2462.5 1748.6,2479C1756.6,2497.1 1764.2,2520.1 1764.2,2520.1"/><path class="ml"  d="M1334.4,2513.1C1334.4,2513.1 1347.1,2501.5 1357.9,2492.5C1368.5,2483.9 1371.1,2482.4 1381.9,2474C1392.7,2465.5 1395.2,2463.8 1405.9,2455.1C1416.7,2446.4 1418.9,2444.2 1429.6,2435.3C1440.3,2426.4 1442.4,2424.2 1453.4,2415.8C1464.1,2407.5 1466.4,2405.6 1477.7,2398.2C1488.6,2391 1491.1,2389.5 1502.7,2383.4C1514,2377.5 1516.5,2376.1 1528.4,2371.6C1540,2367.3 1542.6,2366.3 1554.8,2363.9C1566.6,2361.6 1569.4,2361.2 1581.5,2361.2C1593.6,2361.2 1596.4,2361.5 1608.3,2363.8C1620.4,2366.1 1623.1,2367 1634.5,2371.5C1646.5,2376.1 1649.1,2377.5 1660,2384C1671.6,2390.9 1674.1,2392.7 1684.5,2401.2C1695.5,2410.3 1698.1,2412.4 1707.6,2423C1718,2434.5 1720.2,2437.3 1728.8,2450.3C1738.2,2464.4 1740.1,2467.8 1747.6,2483C1755.9,2499.9 1763.8,2521.4 1763.8,2521.4"/><path class="ml"  d="M1335,2514.1C1335,2514.1 1347.6,2503.6 1358.5,2495.6C1369,2487.8 1371.7,2486.6 1382.5,2479.1C1393.3,2471.6 1395.8,2470 1406.5,2462.3C1417.3,2454.3 1419.4,2452.2 1430.2,2444.2C1440.8,2436.2 1443,2434.2 1453.9,2426.7C1464.6,2419.3 1467,2417.6 1478.2,2411C1489.1,2404.6 1491.6,2403.2 1503.1,2397.8C1514.3,2392.5 1516.8,2391.3 1528.5,2387.3C1540,2383.3 1542.6,2382.4 1554.5,2380.1C1566.2,2377.9 1568.9,2377.5 1580.8,2377.3C1592.7,2377.1 1595.4,2377.4 1607.1,2379.3C1619,2381.2 1621.7,2381.8 1633.1,2385.7C1644.8,2389.8 1647.4,2391 1658.4,2396.9C1669.8,2403 1672.3,2404.6 1682.7,2412.4C1693.7,2420.5 1696.2,2422.4 1705.9,2432.1C1716.3,2442.6 1718.4,2445.2 1727.3,2457.1C1736.8,2470 1738.9,2473 1746.6,2487C1755.2,2502.6 1763.3,2522.7 1763.3,2522.7"/><path class="ml"  d="M1335.5,2515.2C1335.5,2515.2 1348.2,2505.7 1359,2498.6C1369.6,2491.8 1372.3,2490.8 1383.1,2484.2C1393.9,2477.6 1396.4,2476.3 1407,2469.4C1417.9,2462.3 1420,2460.3 1430.7,2453C1441.3,2445.9 1443.6,2444.2 1454.5,2437.5C1465.2,2431 1467.6,2429.6 1478.7,2423.8C1489.7,2418.2 1492.1,2416.9 1503.4,2412.1C1514.6,2407.5 1517.1,2406.5 1528.6,2402.9C1540,2399.3 1542.5,2398.4 1554.2,2396.3C1565.7,2394.2 1568.4,2393.8 1580.1,2393.4C1591.7,2393.1 1594.4,2393.3 1606,2394.8C1617.7,2396.2 1620.3,2396.6 1631.6,2400C1643.2,2403.4 1645.8,2404.5 1656.7,2409.7C1668,2415.1 1670.5,2416.5 1680.9,2423.5C1691.9,2430.8 1694.4,2432.4 1704.1,2441.3C1714.6,2450.7 1716.7,2453.1 1725.8,2464C1735.4,2475.6 1737.7,2478.2 1745.6,2491.1C1754.4,2505.3 1762.9,2524 1762.9,2524"/><path class="ml"  d="M1336,2516.3C1336,2516.3 1348.8,2507.9 1359.6,2501.7C1370.2,2495.7 1372.9,2495 1383.7,2489.3C1394.5,2483.6 1397,2482.6 1407.6,2476.5C1418.5,2470.3 1420.5,2468.3 1431.2,2461.9C1441.9,2455.6 1444.2,2454.1 1455.1,2448.4C1465.8,2442.8 1468.2,2441.6 1479.3,2436.6C1490.2,2431.7 1492.6,2430.6 1503.8,2426.5C1514.9,2422.4 1517.4,2421.6 1528.7,2418.5C1539.9,2415.3 1542.4,2414.5 1553.9,2412.5C1565.3,2410.5 1567.8,2410 1579.4,2409.5C1590.8,2409 1593.4,2409.2 1604.8,2410.2C1616.3,2411.3 1619,2411.5 1630.1,2414.2C1641.6,2417 1644.1,2418 1655,2422.5C1666.2,2427.2 1668.7,2428.4 1679.1,2434.6C1690.1,2441 1692.5,2442.5 1702.4,2450.4C1712.9,2458.9 1715,2461.1 1724.3,2470.8C1734.1,2481.2 1736.5,2483.4 1744.6,2495.1C1753.7,2508 1762.4,2525.3 1762.4,2525.3"/><path fill="url(#gs)"  d="M1325.1,2524.2C1325.1,2524.2 1344.6,2513 1361.3,2505.3C1379,2497.2 1383.8,2497.2 1401.6,2489.2C1420,2480.9 1423.3,2477.4 1441.8,2469.1C1459.6,2461.1 1463.7,2459.4 1482.1,2453C1499.9,2446.7 1504,2445.5 1522.3,2440.9C1540.3,2436.4 1544.3,2435.1 1562.6,2432.9C1580.6,2430.6 1584.7,2429.9 1602.9,2430.8C1621.2,2431.8 1625.5,2432 1643.1,2436.9C1661.9,2442.1 1666.3,2443.6 1683.4,2453C1702.8,2463.6 1707.1,2466.5 1723.6,2481.2C1739.9,2495.7 1743.6,2499.4 1755.8,2517.4C1767.9,2535 1777.2,2559.7 1777.2,2559.7C1777.2,2559.7 1768,2578.5 1755.8,2589.9C1743.4,2601.6 1739.3,2603.1 1723.6,2610C1706.4,2617.7 1702.2,2620.2 1683.4,2622.1C1665.3,2623.9 1660.8,2622.5 1643.1,2618.1C1624.2,2613.3 1620.3,2610.7 1602.9,2601.9C1591.2,2596.1 1588.7,2594.2 1578.7,2585.8C1566.9,2576 1565.4,2572.6 1554.5,2561.7C1543.7,2550.8 1541.5,2548.1 1530.4,2537.5C1521.6,2529.1 1521.2,2524.9 1510.3,2519.4C1498.7,2513.6 1495,2514.3 1482.1,2513.4C1455,2511.5 1448.8,2512.5 1421.7,2513.4C1394.5,2514.3 1388.4,2514.4 1361.3,2517.4C1344.8,2519.3 1325.1,2524.2 1325.1,2524.2Z"/>
<clipPath id="cq-f"><path d="M1325.1,2524.2C1325.1,2524.2 1344.6,2513 1361.3,2505.3C1379,2497.2 1383.8,2497.2 1401.6,2489.2C1420,2480.9 1423.3,2477.4 1441.8,2469.1C1459.6,2461.1 1463.7,2459.4 1482.1,2453C1499.9,2446.7 1504,2445.5 1522.3,2440.9C1540.3,2436.4 1544.3,2435.1 1562.6,2432.9C1580.6,2430.6 1584.7,2429.9 1602.9,2430.8C1621.2,2431.8 1625.5,2432 1643.1,2436.9C1661.9,2442.1 1666.3,2443.6 1683.4,2453C1702.8,2463.6 1707.1,2466.5 1723.6,2481.2C1739.9,2495.7 1743.6,2499.4 1755.8,2517.4C1767.9,2535 1777.2,2559.7 1777.2,2559.7C1777.2,2559.7 1768,2578.5 1755.8,2589.9C1743.4,2601.6 1739.3,2603.1 1723.6,2610C1706.4,2617.7 1702.2,2620.2 1683.4,2622.1C1665.3,2623.9 1660.8,2622.5 1643.1,2618.1C1624.2,2613.3 1620.3,2610.7 1602.9,2601.9C1591.2,2596.1 1588.7,2594.2 1578.7,2585.8C1566.9,2576 1565.4,2572.6 1554.5,2561.7C1543.7,2550.8 1541.5,2548.1 1530.4,2537.5C1521.6,2529.1 1521.2,2524.9 1510.3,2519.4C1498.7,2513.6 1495,2514.3 1482.1,2513.4C1455,2511.5 1448.8,2512.5 1421.7,2513.4C1394.5,2514.3 1388.4,2514.4 1361.3,2517.4C1344.8,2519.3 1325.1,2524.2 1325.1,2524.2Z"/></clipPath>
<g clip-path="url(#cq-f)"><g transform="translate(1018.7 2031)"><use href="#back2"/></g></g>
<g transform="translate(1018.7 2031)">
<use href="#front"/>
<g class="labels"><text class="t" transform="translate(89.5 270.5) scale(1 1.04)">10<tspan class="sp" dx="1.5" dy="-16.5">20</tspan></text>
<text class="t" transform="translate(87 411.3) scale(1 1.04)">10<tspan class="sp" dx="3.5" dy="-16.5">10</tspan></text>
<text class="t" transform="translate(109.5 542) scale(1 1.04)">0</text>
<text class="al" transform="translate(40.5 222.5) rotate(90)">Concentration (#/m<tspan class="sp2" dy="-13">3</tspan><tspan dy="13">)</tspan></text>
<text class="t" transform="translate(191.5 853) scale(1 1.04)">1</text>
<text class="t" transform="translate(367.5 909) scale(1 1.04)">10</text>
<text class="t" transform="translate(541.5 968) scale(1 1.04)">100</text>
<text class="al2" transform="translate(172.5 890) rotate(15.5)">Particle diameter (nm)</text>
<text class="t" transform="translate(627.5 964.5) scale(1 1.04)">0</text>
<text class="t" transform="translate(689.5 918.5) scale(1 1.04)">20</text>
<text class="t" transform="translate(753 874.5) scale(1 1.04)">40</text>
<text class="t" transform="translate(816 827.5) scale(1 1.04)">60</text>
<text class="t" transform="translate(878 782.5) scale(1 1.04)">80</text>
<text class="t" transform="translate(942 736) scale(1 1.04)">100</text>
<text class="al3" transform="translate(746 953) rotate(-33.4)">Si content (at. %)</text></g>
</g>
<text class="pt" x="1060.7" y="2127.5">(f) 1408 K</text>
</g>
<rect x="1078" y="3066.5" width="910.5" height="48.5" fill="url(#cb)" stroke="#777" stroke-width="2"/>
<text class="bt" x="450.5" y="3187.5">Concentration (#/m<tspan font-size="35" dy="-20">3</tspan><tspan dy="20">) : 10</tspan><tspan font-size="35" dy="-20">0</tspan></text>
<line x1="1178" y1="3166" x2="1903" y2="3166" stroke="#000" stroke-width="5.6"/>
<polygon points="1165,3166 1190,3156.5 1185,3166 1190,3175.5" fill="#000"/>
<polygon points="1916,3166 1891,3156.5 1896,3166 1891,3175.5" fill="#000"/>
<text class="bt" x="1953" y="3187.5">10<tspan font-size="35" dy="-20">20</tspan></text>
</svg>
</body>
</html>
